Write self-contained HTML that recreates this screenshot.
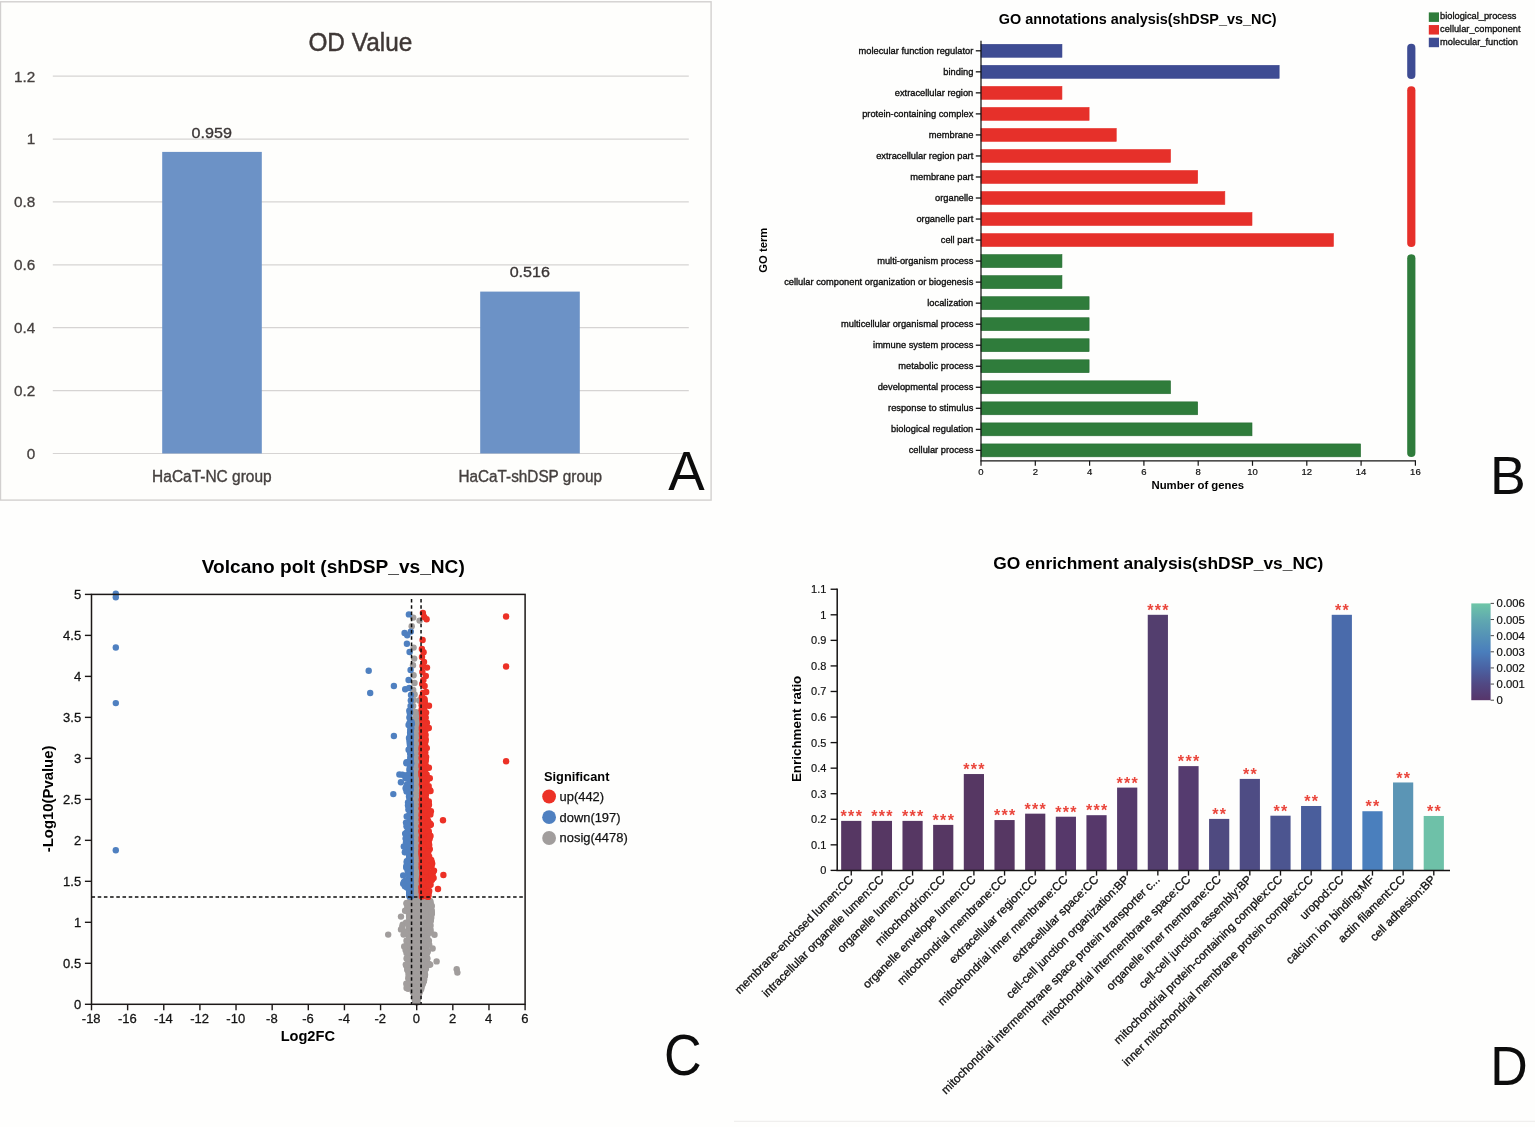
<!DOCTYPE html>
<html lang="en">
<head>
<meta charset="utf-8">
<title>Figure: OD value, GO annotation, volcano plot and GO enrichment (shDSP_vs_NC)</title>
<style>
html,body{margin:0;padding:0;background:#fefefd;}
body{width:1535px;height:1127px;overflow:hidden;}
svg{display:block;font-family:"Liberation Sans",sans-serif;}
</style>
</head>
<body>
<svg width="1535" height="1127" viewBox="0 0 1535 1127">
<rect x="0" y="0" width="1535" height="1127" fill="#fefefd"/>
<g id="panelA">
<rect x="0.5" y="1.8" width="710.6" height="498.3" fill="#fefefc" stroke="#d2d0cf" stroke-width="1.4"/>
<line x1="52.80" y1="76.20" x2="688.80" y2="76.20" stroke="#d6d4d3" stroke-width="1.2"/>
<text x="35.20" y="81.50" font-size="15.3" text-anchor="end" fill="#45403f" stroke="#45403f" stroke-width="0.3">1.2</text>
<line x1="52.80" y1="139.08" x2="688.80" y2="139.08" stroke="#d6d4d3" stroke-width="1.2"/>
<text x="35.20" y="144.38" font-size="15.3" text-anchor="end" fill="#45403f" stroke="#45403f" stroke-width="0.3">1</text>
<line x1="52.80" y1="201.96" x2="688.80" y2="201.96" stroke="#d6d4d3" stroke-width="1.2"/>
<text x="35.20" y="207.26" font-size="15.3" text-anchor="end" fill="#45403f" stroke="#45403f" stroke-width="0.3">0.8</text>
<line x1="52.80" y1="264.84" x2="688.80" y2="264.84" stroke="#d6d4d3" stroke-width="1.2"/>
<text x="35.20" y="270.14" font-size="15.3" text-anchor="end" fill="#45403f" stroke="#45403f" stroke-width="0.3">0.6</text>
<line x1="52.80" y1="327.72" x2="688.80" y2="327.72" stroke="#d6d4d3" stroke-width="1.2"/>
<text x="35.20" y="333.02" font-size="15.3" text-anchor="end" fill="#45403f" stroke="#45403f" stroke-width="0.3">0.4</text>
<line x1="52.80" y1="390.60" x2="688.80" y2="390.60" stroke="#d6d4d3" stroke-width="1.2"/>
<text x="35.20" y="395.90" font-size="15.3" text-anchor="end" fill="#45403f" stroke="#45403f" stroke-width="0.3">0.2</text>
<line x1="52.80" y1="453.48" x2="688.80" y2="453.48" stroke="#d6d4d3" stroke-width="1.2"/>
<text x="35.20" y="458.78" font-size="15.3" text-anchor="end" fill="#45403f" stroke="#45403f" stroke-width="0.3">0</text>
<rect x="162.20" y="151.90" width="99.60" height="301.58" fill="#6c92c6"/>
<rect x="480.20" y="291.60" width="99.60" height="161.88" fill="#6c92c6"/>
<text x="211.70" y="138.00" font-size="15.3" text-anchor="middle" fill="#3b3636" textLength="40.3" lengthAdjust="spacingAndGlyphs" stroke="#3b3636" stroke-width="0.35">0.959</text>
<text x="529.80" y="277.00" font-size="15.3" text-anchor="middle" fill="#3b3636" textLength="40.3" lengthAdjust="spacingAndGlyphs" stroke="#3b3636" stroke-width="0.35">0.516</text>
<text x="211.90" y="482.00" font-size="15.8" text-anchor="middle" fill="#45403f" textLength="119.6" lengthAdjust="spacingAndGlyphs" stroke="#45403f" stroke-width="0.35">HaCaT-NC group</text>
<text x="530.20" y="482.00" font-size="15.8" text-anchor="middle" fill="#45403f" textLength="143.6" lengthAdjust="spacingAndGlyphs" stroke="#45403f" stroke-width="0.35">HaCaT-shDSP group</text>
<text x="360.40" y="51.30" font-size="25.6" text-anchor="middle" fill="#3f3836" textLength="104.0" lengthAdjust="spacingAndGlyphs" stroke="#3f3836" stroke-width="0.45">OD Value</text>
<text x="668.20" y="490.00" font-size="54.6" fill="#0c0c0c">A</text>
</g>
<g id="panelB">
<rect x="981.00" y="44.35" width="80.95" height="12.90" fill="#3e4c93" stroke="#34418a" stroke-width="0.6"/>
<line x1="975.80" y1="50.80" x2="981.00" y2="50.80" stroke="#151515" stroke-width="1.3"/>
<text x="973.30" y="53.90" font-size="9.3" text-anchor="end" fill="#0c0c0c" stroke="#0c0c0c" stroke-width="0.33">molecular function regulator</text>
<rect x="981.00" y="65.38" width="298.15" height="12.90" fill="#3e4c93" stroke="#34418a" stroke-width="0.6"/>
<line x1="975.80" y1="71.83" x2="981.00" y2="71.83" stroke="#151515" stroke-width="1.3"/>
<text x="973.30" y="74.93" font-size="9.3" text-anchor="end" fill="#0c0c0c" stroke="#0c0c0c" stroke-width="0.33">binding</text>
<rect x="981.00" y="86.41" width="80.95" height="12.90" fill="#e6302a" stroke="#e6302a" stroke-width="0.6"/>
<line x1="975.80" y1="92.86" x2="981.00" y2="92.86" stroke="#151515" stroke-width="1.3"/>
<text x="973.30" y="95.96" font-size="9.3" text-anchor="end" fill="#0c0c0c" stroke="#0c0c0c" stroke-width="0.33">extracellular region</text>
<rect x="981.00" y="107.44" width="108.10" height="12.90" fill="#e6302a" stroke="#e6302a" stroke-width="0.6"/>
<line x1="975.80" y1="113.89" x2="981.00" y2="113.89" stroke="#151515" stroke-width="1.3"/>
<text x="973.30" y="116.99" font-size="9.3" text-anchor="end" fill="#0c0c0c" stroke="#0c0c0c" stroke-width="0.33">protein-containing complex</text>
<rect x="981.00" y="128.47" width="135.25" height="12.90" fill="#e6302a" stroke="#e6302a" stroke-width="0.6"/>
<line x1="975.80" y1="134.92" x2="981.00" y2="134.92" stroke="#151515" stroke-width="1.3"/>
<text x="973.30" y="138.02" font-size="9.3" text-anchor="end" fill="#0c0c0c" stroke="#0c0c0c" stroke-width="0.33">membrane</text>
<rect x="981.00" y="149.50" width="189.55" height="12.90" fill="#e6302a" stroke="#e6302a" stroke-width="0.6"/>
<line x1="975.80" y1="155.95" x2="981.00" y2="155.95" stroke="#151515" stroke-width="1.3"/>
<text x="973.30" y="159.05" font-size="9.3" text-anchor="end" fill="#0c0c0c" stroke="#0c0c0c" stroke-width="0.33">extracellular region part</text>
<rect x="981.00" y="170.53" width="216.70" height="12.90" fill="#e6302a" stroke="#e6302a" stroke-width="0.6"/>
<line x1="975.80" y1="176.98" x2="981.00" y2="176.98" stroke="#151515" stroke-width="1.3"/>
<text x="973.30" y="180.08" font-size="9.3" text-anchor="end" fill="#0c0c0c" stroke="#0c0c0c" stroke-width="0.33">membrane part</text>
<rect x="981.00" y="191.56" width="243.85" height="12.90" fill="#e6302a" stroke="#e6302a" stroke-width="0.6"/>
<line x1="975.80" y1="198.01" x2="981.00" y2="198.01" stroke="#151515" stroke-width="1.3"/>
<text x="973.30" y="201.11" font-size="9.3" text-anchor="end" fill="#0c0c0c" stroke="#0c0c0c" stroke-width="0.33">organelle</text>
<rect x="981.00" y="212.59" width="271.00" height="12.90" fill="#e6302a" stroke="#e6302a" stroke-width="0.6"/>
<line x1="975.80" y1="219.04" x2="981.00" y2="219.04" stroke="#151515" stroke-width="1.3"/>
<text x="973.30" y="222.14" font-size="9.3" text-anchor="end" fill="#0c0c0c" stroke="#0c0c0c" stroke-width="0.33">organelle part</text>
<rect x="981.00" y="233.62" width="352.45" height="12.90" fill="#e6302a" stroke="#e6302a" stroke-width="0.6"/>
<line x1="975.80" y1="240.07" x2="981.00" y2="240.07" stroke="#151515" stroke-width="1.3"/>
<text x="973.30" y="243.17" font-size="9.3" text-anchor="end" fill="#0c0c0c" stroke="#0c0c0c" stroke-width="0.33">cell part</text>
<rect x="981.00" y="254.65" width="80.95" height="12.90" fill="#2f7c3b" stroke="#276d33" stroke-width="0.6"/>
<line x1="975.80" y1="261.10" x2="981.00" y2="261.10" stroke="#151515" stroke-width="1.3"/>
<text x="973.30" y="264.20" font-size="9.3" text-anchor="end" fill="#0c0c0c" stroke="#0c0c0c" stroke-width="0.33">multi-organism process</text>
<rect x="981.00" y="275.68" width="80.95" height="12.90" fill="#2f7c3b" stroke="#276d33" stroke-width="0.6"/>
<line x1="975.80" y1="282.13" x2="981.00" y2="282.13" stroke="#151515" stroke-width="1.3"/>
<text x="973.30" y="285.23" font-size="9.3" text-anchor="end" fill="#0c0c0c" stroke="#0c0c0c" stroke-width="0.33">cellular component organization or biogenesis</text>
<rect x="981.00" y="296.71" width="108.10" height="12.90" fill="#2f7c3b" stroke="#276d33" stroke-width="0.6"/>
<line x1="975.80" y1="303.16" x2="981.00" y2="303.16" stroke="#151515" stroke-width="1.3"/>
<text x="973.30" y="306.26" font-size="9.3" text-anchor="end" fill="#0c0c0c" stroke="#0c0c0c" stroke-width="0.33">localization</text>
<rect x="981.00" y="317.74" width="108.10" height="12.90" fill="#2f7c3b" stroke="#276d33" stroke-width="0.6"/>
<line x1="975.80" y1="324.19" x2="981.00" y2="324.19" stroke="#151515" stroke-width="1.3"/>
<text x="973.30" y="327.29" font-size="9.3" text-anchor="end" fill="#0c0c0c" stroke="#0c0c0c" stroke-width="0.33">multicellular organismal process</text>
<rect x="981.00" y="338.77" width="108.10" height="12.90" fill="#2f7c3b" stroke="#276d33" stroke-width="0.6"/>
<line x1="975.80" y1="345.22" x2="981.00" y2="345.22" stroke="#151515" stroke-width="1.3"/>
<text x="973.30" y="348.32" font-size="9.3" text-anchor="end" fill="#0c0c0c" stroke="#0c0c0c" stroke-width="0.33">immune system process</text>
<rect x="981.00" y="359.80" width="108.10" height="12.90" fill="#2f7c3b" stroke="#276d33" stroke-width="0.6"/>
<line x1="975.80" y1="366.25" x2="981.00" y2="366.25" stroke="#151515" stroke-width="1.3"/>
<text x="973.30" y="369.35" font-size="9.3" text-anchor="end" fill="#0c0c0c" stroke="#0c0c0c" stroke-width="0.33">metabolic process</text>
<rect x="981.00" y="380.83" width="189.55" height="12.90" fill="#2f7c3b" stroke="#276d33" stroke-width="0.6"/>
<line x1="975.80" y1="387.28" x2="981.00" y2="387.28" stroke="#151515" stroke-width="1.3"/>
<text x="973.30" y="390.38" font-size="9.3" text-anchor="end" fill="#0c0c0c" stroke="#0c0c0c" stroke-width="0.33">developmental process</text>
<rect x="981.00" y="401.86" width="216.70" height="12.90" fill="#2f7c3b" stroke="#276d33" stroke-width="0.6"/>
<line x1="975.80" y1="408.31" x2="981.00" y2="408.31" stroke="#151515" stroke-width="1.3"/>
<text x="973.30" y="411.41" font-size="9.3" text-anchor="end" fill="#0c0c0c" stroke="#0c0c0c" stroke-width="0.33">response to stimulus</text>
<rect x="981.00" y="422.89" width="271.00" height="12.90" fill="#2f7c3b" stroke="#276d33" stroke-width="0.6"/>
<line x1="975.80" y1="429.34" x2="981.00" y2="429.34" stroke="#151515" stroke-width="1.3"/>
<text x="973.30" y="432.44" font-size="9.3" text-anchor="end" fill="#0c0c0c" stroke="#0c0c0c" stroke-width="0.33">biological regulation</text>
<rect x="981.00" y="443.92" width="379.60" height="12.90" fill="#2f7c3b" stroke="#276d33" stroke-width="0.6"/>
<line x1="975.80" y1="450.37" x2="981.00" y2="450.37" stroke="#151515" stroke-width="1.3"/>
<text x="973.30" y="453.47" font-size="9.3" text-anchor="end" fill="#0c0c0c" stroke="#0c0c0c" stroke-width="0.33">cellular process</text>
<line x1="981.00" y1="40.80" x2="981.00" y2="460.80" stroke="#151515" stroke-width="1.25"/>
<line x1="980.40" y1="460.80" x2="1416.00" y2="460.80" stroke="#151515" stroke-width="1.25"/>
<line x1="981.00" y1="460.80" x2="981.00" y2="465.80" stroke="#151515" stroke-width="1.2"/>
<text x="981.00" y="474.70" font-size="9.5" text-anchor="middle" fill="#0f0f0f" stroke="#0f0f0f" stroke-width="0.2">0</text>
<line x1="1035.30" y1="460.80" x2="1035.30" y2="465.80" stroke="#151515" stroke-width="1.2"/>
<text x="1035.30" y="474.70" font-size="9.5" text-anchor="middle" fill="#0f0f0f" stroke="#0f0f0f" stroke-width="0.2">2</text>
<line x1="1089.60" y1="460.80" x2="1089.60" y2="465.80" stroke="#151515" stroke-width="1.2"/>
<text x="1089.60" y="474.70" font-size="9.5" text-anchor="middle" fill="#0f0f0f" stroke="#0f0f0f" stroke-width="0.2">4</text>
<line x1="1143.90" y1="460.80" x2="1143.90" y2="465.80" stroke="#151515" stroke-width="1.2"/>
<text x="1143.90" y="474.70" font-size="9.5" text-anchor="middle" fill="#0f0f0f" stroke="#0f0f0f" stroke-width="0.2">6</text>
<line x1="1198.20" y1="460.80" x2="1198.20" y2="465.80" stroke="#151515" stroke-width="1.2"/>
<text x="1198.20" y="474.70" font-size="9.5" text-anchor="middle" fill="#0f0f0f" stroke="#0f0f0f" stroke-width="0.2">8</text>
<line x1="1252.50" y1="460.80" x2="1252.50" y2="465.80" stroke="#151515" stroke-width="1.2"/>
<text x="1252.50" y="474.70" font-size="9.5" text-anchor="middle" fill="#0f0f0f" stroke="#0f0f0f" stroke-width="0.2">10</text>
<line x1="1306.80" y1="460.80" x2="1306.80" y2="465.80" stroke="#151515" stroke-width="1.2"/>
<text x="1306.80" y="474.70" font-size="9.5" text-anchor="middle" fill="#0f0f0f" stroke="#0f0f0f" stroke-width="0.2">12</text>
<line x1="1361.10" y1="460.80" x2="1361.10" y2="465.80" stroke="#151515" stroke-width="1.2"/>
<text x="1361.10" y="474.70" font-size="9.5" text-anchor="middle" fill="#0f0f0f" stroke="#0f0f0f" stroke-width="0.2">14</text>
<line x1="1415.40" y1="460.80" x2="1415.40" y2="465.80" stroke="#151515" stroke-width="1.2"/>
<text x="1415.40" y="474.70" font-size="9.5" text-anchor="middle" fill="#0f0f0f" stroke="#0f0f0f" stroke-width="0.2">16</text>
<text x="1197.80" y="489.30" font-size="11.35" text-anchor="middle" font-weight="bold">Number of genes</text>
<text x="766.90" y="250.20" font-size="11.3" text-anchor="middle" font-weight="bold" transform="rotate(-90 766.90 250.20)">GO term</text>
<text x="1137.70" y="24.20" font-size="15.0" text-anchor="middle" font-weight="bold" textLength="277.8" lengthAdjust="spacingAndGlyphs">GO annotations analysis(shDSP_vs_NC)</text>
<rect x="1407.2" y="43.8" width="8.2" height="35.2" rx="4.1" ry="4.1" fill="#3e4c93"/>
<rect x="1407.2" y="86.2" width="8.2" height="160.8" rx="4.1" ry="4.1" fill="#e6302a"/>
<rect x="1407.2" y="254.2" width="8.2" height="202.8" rx="4.1" ry="4.1" fill="#2f7c3b"/>
<rect x="1428.80" y="12.40" width="10.20" height="9.50" fill="#2f7c3b"/>
<text x="1440.00" y="19.20" font-size="9.3" fill="#0c0c0c" stroke="#0c0c0c" stroke-width="0.3">biological_process</text>
<rect x="1428.80" y="25.05" width="10.20" height="9.50" fill="#e6302a"/>
<text x="1440.00" y="31.85" font-size="9.3" fill="#0c0c0c" stroke="#0c0c0c" stroke-width="0.3">cellular_component</text>
<rect x="1428.80" y="37.70" width="10.20" height="9.50" fill="#3e4c93"/>
<text x="1440.00" y="44.50" font-size="9.3" fill="#0c0c0c" stroke="#0c0c0c" stroke-width="0.3">molecular_function</text>
<text x="1489.90" y="493.50" font-size="53.6" fill="#0c0c0c">B</text>
</g>
<g id="panelC">
<g fill="#a19d9c">
<circle cx="412.3" cy="933.0" r="3.2"/><circle cx="411.1" cy="966.6" r="3.2"/><circle cx="415.4" cy="954.8" r="3.2"/><circle cx="419.2" cy="905.6" r="3.2"/><circle cx="417.8" cy="903.5" r="3.2"/><circle cx="411.2" cy="906.8" r="3.2"/><circle cx="423.8" cy="943.3" r="3.2"/><circle cx="413.6" cy="912.4" r="3.2"/><circle cx="423.9" cy="964.2" r="3.2"/><circle cx="415.8" cy="959.0" r="3.2"/><circle cx="415.3" cy="1000.2" r="3.2"/><circle cx="414.6" cy="988.0" r="3.2"/><circle cx="411.4" cy="914.5" r="3.2"/><circle cx="424.5" cy="931.4" r="3.2"/><circle cx="420.5" cy="918.2" r="3.2"/><circle cx="415.5" cy="965.4" r="3.2"/><circle cx="410.9" cy="956.0" r="3.2"/><circle cx="413.5" cy="905.7" r="3.2"/><circle cx="416.3" cy="969.7" r="3.2"/><circle cx="420.2" cy="932.0" r="3.2"/><circle cx="414.9" cy="946.3" r="3.2"/><circle cx="419.3" cy="981.4" r="3.2"/><circle cx="420.2" cy="924.7" r="3.2"/><circle cx="423.0" cy="953.7" r="3.2"/><circle cx="414.2" cy="974.7" r="3.2"/><circle cx="415.5" cy="1000.6" r="3.2"/><circle cx="422.7" cy="942.7" r="3.2"/><circle cx="418.7" cy="915.3" r="3.2"/><circle cx="422.2" cy="903.6" r="3.2"/><circle cx="418.1" cy="978.4" r="3.2"/><circle cx="415.0" cy="989.8" r="3.2"/><circle cx="418.7" cy="971.2" r="3.2"/><circle cx="416.7" cy="959.3" r="3.2"/><circle cx="421.1" cy="986.1" r="3.2"/><circle cx="420.6" cy="948.4" r="3.2"/><circle cx="422.9" cy="905.8" r="3.2"/><circle cx="424.6" cy="966.3" r="3.2"/><circle cx="414.2" cy="984.3" r="3.2"/><circle cx="421.4" cy="939.3" r="3.2"/><circle cx="418.4" cy="901.9" r="3.2"/><circle cx="411.3" cy="916.9" r="3.2"/><circle cx="424.2" cy="905.7" r="3.2"/><circle cx="414.0" cy="912.9" r="3.2"/><circle cx="424.8" cy="939.9" r="3.2"/><circle cx="418.1" cy="907.9" r="3.2"/><circle cx="422.9" cy="956.2" r="3.2"/><circle cx="420.8" cy="984.0" r="3.2"/><circle cx="417.1" cy="928.3" r="3.2"/><circle cx="425.4" cy="936.6" r="3.2"/><circle cx="415.4" cy="998.2" r="3.2"/><circle cx="413.6" cy="917.8" r="3.2"/><circle cx="418.5" cy="923.6" r="3.2"/><circle cx="413.8" cy="960.3" r="3.2"/><circle cx="417.6" cy="900.0" r="3.2"/><circle cx="419.7" cy="937.6" r="3.2"/><circle cx="416.9" cy="997.8" r="3.2"/><circle cx="419.3" cy="952.7" r="3.2"/><circle cx="410.8" cy="969.2" r="3.2"/><circle cx="417.8" cy="992.3" r="3.2"/><circle cx="418.6" cy="989.7" r="3.2"/><circle cx="416.7" cy="940.0" r="3.2"/><circle cx="421.6" cy="910.3" r="3.2"/><circle cx="410.8" cy="906.0" r="3.2"/><circle cx="412.3" cy="921.1" r="3.2"/><circle cx="410.6" cy="934.6" r="3.2"/><circle cx="412.7" cy="899.6" r="3.2"/><circle cx="416.4" cy="910.1" r="3.2"/><circle cx="426.0" cy="902.2" r="3.2"/><circle cx="412.2" cy="962.8" r="3.2"/><circle cx="415.9" cy="925.6" r="3.2"/><circle cx="411.9" cy="937.1" r="3.2"/><circle cx="421.2" cy="987.0" r="3.2"/><circle cx="417.8" cy="947.6" r="3.2"/><circle cx="411.4" cy="908.4" r="3.2"/><circle cx="414.4" cy="934.9" r="3.2"/><circle cx="412.8" cy="985.0" r="3.2"/><circle cx="427.4" cy="902.0" r="3.2"/><circle cx="412.2" cy="954.0" r="3.2"/><circle cx="410.4" cy="955.5" r="3.2"/><circle cx="424.5" cy="954.0" r="3.2"/><circle cx="418.0" cy="988.5" r="3.2"/><circle cx="416.2" cy="926.5" r="3.2"/><circle cx="424.3" cy="916.8" r="3.2"/><circle cx="421.5" cy="954.5" r="3.2"/><circle cx="413.6" cy="933.6" r="3.2"/><circle cx="422.4" cy="983.2" r="3.2"/><circle cx="419.3" cy="987.4" r="3.2"/><circle cx="419.4" cy="983.9" r="3.2"/><circle cx="419.1" cy="923.0" r="3.2"/><circle cx="410.2" cy="936.2" r="3.2"/><circle cx="415.0" cy="902.5" r="3.2"/><circle cx="422.4" cy="926.3" r="3.2"/><circle cx="416.2" cy="998.1" r="3.2"/><circle cx="418.0" cy="996.1" r="3.2"/><circle cx="415.9" cy="998.0" r="3.2"/><circle cx="413.6" cy="922.3" r="3.2"/><circle cx="413.1" cy="919.9" r="3.2"/><circle cx="423.2" cy="963.9" r="3.2"/><circle cx="416.3" cy="986.2" r="3.2"/><circle cx="421.7" cy="966.9" r="3.2"/><circle cx="422.1" cy="908.3" r="3.2"/><circle cx="417.7" cy="993.3" r="3.2"/><circle cx="416.9" cy="976.9" r="3.2"/><circle cx="424.5" cy="918.0" r="3.2"/><circle cx="424.1" cy="933.8" r="3.2"/><circle cx="416.1" cy="999.7" r="3.2"/><circle cx="426.0" cy="940.9" r="3.2"/><circle cx="412.5" cy="974.3" r="3.2"/><circle cx="412.1" cy="912.7" r="3.2"/><circle cx="417.9" cy="992.8" r="3.2"/><circle cx="425.4" cy="914.7" r="3.2"/><circle cx="416.7" cy="1000.6" r="3.2"/><circle cx="419.5" cy="935.7" r="3.2"/><circle cx="409.4" cy="913.1" r="3.2"/><circle cx="416.7" cy="999.6" r="3.2"/><circle cx="423.8" cy="953.8" r="3.2"/><circle cx="424.5" cy="944.3" r="3.2"/><circle cx="413.3" cy="984.7" r="3.2"/><circle cx="414.8" cy="925.5" r="3.2"/><circle cx="420.4" cy="924.4" r="3.2"/><circle cx="417.2" cy="926.3" r="3.2"/><circle cx="427.0" cy="913.1" r="3.2"/><circle cx="417.8" cy="936.0" r="3.2"/><circle cx="423.2" cy="959.7" r="3.2"/><circle cx="425.4" cy="942.9" r="3.2"/><circle cx="418.2" cy="951.3" r="3.2"/><circle cx="410.3" cy="953.5" r="3.2"/><circle cx="413.0" cy="944.9" r="3.2"/><circle cx="424.5" cy="900.0" r="3.2"/><circle cx="418.4" cy="917.4" r="3.2"/><circle cx="418.2" cy="974.3" r="3.2"/><circle cx="419.0" cy="933.2" r="3.2"/><circle cx="421.5" cy="956.8" r="3.2"/><circle cx="420.2" cy="910.5" r="3.2"/><circle cx="414.5" cy="925.2" r="3.2"/><circle cx="417.1" cy="979.1" r="3.2"/><circle cx="421.1" cy="957.5" r="3.2"/><circle cx="416.0" cy="993.6" r="3.2"/><circle cx="417.4" cy="962.7" r="3.2"/><circle cx="420.5" cy="952.4" r="3.2"/><circle cx="418.7" cy="946.2" r="3.2"/><circle cx="424.9" cy="948.8" r="3.2"/><circle cx="422.9" cy="971.6" r="3.2"/><circle cx="415.5" cy="996.6" r="3.2"/><circle cx="423.8" cy="957.2" r="3.2"/><circle cx="412.8" cy="986.1" r="3.2"/><circle cx="417.8" cy="912.1" r="3.2"/><circle cx="414.1" cy="907.1" r="3.2"/><circle cx="422.3" cy="907.1" r="3.2"/><circle cx="422.0" cy="980.3" r="3.2"/><circle cx="423.2" cy="915.5" r="3.2"/><circle cx="412.1" cy="967.6" r="3.2"/><circle cx="419.5" cy="990.5" r="3.2"/><circle cx="427.5" cy="922.2" r="3.2"/><circle cx="418.2" cy="940.6" r="3.2"/><circle cx="417.1" cy="1001.6" r="3.2"/><circle cx="417.5" cy="916.2" r="3.2"/><circle cx="415.1" cy="952.7" r="3.2"/><circle cx="415.3" cy="919.8" r="3.2"/><circle cx="410.3" cy="974.0" r="3.2"/><circle cx="416.4" cy="956.7" r="3.2"/><circle cx="416.0" cy="901.5" r="3.2"/><circle cx="417.5" cy="963.9" r="3.2"/><circle cx="428.3" cy="906.2" r="3.2"/><circle cx="422.8" cy="980.8" r="3.2"/><circle cx="414.5" cy="910.4" r="3.2"/><circle cx="424.3" cy="903.7" r="3.2"/><circle cx="411.8" cy="927.5" r="3.2"/><circle cx="425.2" cy="943.1" r="3.2"/><circle cx="413.9" cy="984.0" r="3.2"/><circle cx="427.2" cy="915.0" r="3.2"/><circle cx="420.2" cy="958.4" r="3.2"/><circle cx="410.5" cy="908.8" r="3.2"/><circle cx="416.2" cy="970.5" r="3.2"/><circle cx="427.5" cy="907.1" r="3.2"/><circle cx="421.7" cy="964.9" r="3.2"/><circle cx="425.9" cy="908.2" r="3.2"/><circle cx="426.0" cy="906.5" r="3.2"/><circle cx="415.5" cy="946.3" r="3.2"/><circle cx="423.5" cy="956.6" r="3.2"/><circle cx="411.8" cy="927.2" r="3.2"/><circle cx="413.5" cy="953.9" r="3.2"/><circle cx="412.4" cy="910.9" r="3.2"/><circle cx="413.4" cy="904.8" r="3.2"/><circle cx="415.1" cy="931.7" r="3.2"/><circle cx="414.3" cy="977.8" r="3.2"/><circle cx="412.7" cy="951.1" r="3.2"/><circle cx="410.0" cy="935.3" r="3.2"/><circle cx="409.6" cy="925.4" r="3.2"/><circle cx="418.1" cy="975.1" r="3.2"/><circle cx="418.4" cy="919.1" r="3.2"/><circle cx="414.9" cy="995.9" r="3.2"/><circle cx="415.9" cy="983.9" r="3.2"/><circle cx="422.9" cy="950.6" r="3.2"/><circle cx="418.5" cy="940.1" r="3.2"/><circle cx="424.4" cy="970.4" r="3.2"/><circle cx="424.6" cy="934.9" r="3.2"/><circle cx="419.3" cy="972.4" r="3.2"/><circle cx="415.8" cy="941.3" r="3.2"/><circle cx="412.1" cy="905.2" r="3.2"/><circle cx="423.7" cy="906.9" r="3.2"/><circle cx="412.4" cy="925.9" r="3.2"/><circle cx="425.6" cy="908.3" r="3.2"/><circle cx="417.7" cy="989.3" r="3.2"/><circle cx="413.9" cy="928.6" r="3.2"/><circle cx="417.9" cy="929.8" r="3.2"/><circle cx="417.8" cy="915.8" r="3.2"/><circle cx="427.4" cy="926.7" r="3.2"/><circle cx="416.5" cy="999.8" r="3.2"/><circle cx="427.6" cy="924.8" r="3.2"/><circle cx="416.0" cy="931.5" r="3.2"/><circle cx="416.9" cy="899.7" r="3.2"/><circle cx="418.0" cy="948.5" r="3.2"/><circle cx="418.9" cy="920.3" r="3.2"/><circle cx="414.8" cy="900.1" r="3.2"/><circle cx="417.1" cy="908.8" r="3.2"/><circle cx="410.1" cy="903.9" r="3.2"/><circle cx="413.8" cy="930.9" r="3.2"/><circle cx="417.7" cy="959.9" r="3.2"/><circle cx="419.4" cy="976.9" r="3.2"/><circle cx="422.9" cy="973.3" r="3.2"/><circle cx="415.4" cy="939.7" r="3.2"/><circle cx="415.6" cy="1001.0" r="3.2"/><circle cx="419.5" cy="974.2" r="3.2"/><circle cx="425.4" cy="904.1" r="3.2"/><circle cx="417.1" cy="991.5" r="3.2"/><circle cx="421.9" cy="975.2" r="3.2"/><circle cx="419.4" cy="913.9" r="3.2"/><circle cx="422.8" cy="951.6" r="3.2"/><circle cx="420.7" cy="982.5" r="3.2"/><circle cx="423.1" cy="959.8" r="3.2"/><circle cx="420.2" cy="969.9" r="3.2"/><circle cx="409.8" cy="923.3" r="3.2"/><circle cx="416.2" cy="913.3" r="3.2"/><circle cx="425.5" cy="910.4" r="3.2"/><circle cx="419.2" cy="957.1" r="3.2"/><circle cx="420.0" cy="964.1" r="3.2"/><circle cx="410.1" cy="950.0" r="3.2"/><circle cx="419.9" cy="981.8" r="3.2"/><circle cx="418.2" cy="951.4" r="3.2"/><circle cx="411.0" cy="967.5" r="3.2"/><circle cx="413.7" cy="975.5" r="3.2"/><circle cx="414.6" cy="907.3" r="3.2"/><circle cx="413.0" cy="974.7" r="3.2"/><circle cx="424.1" cy="975.8" r="3.2"/><circle cx="415.9" cy="950.5" r="3.2"/><circle cx="420.8" cy="948.9" r="3.2"/><circle cx="418.6" cy="978.6" r="3.2"/><circle cx="411.1" cy="965.8" r="3.2"/><circle cx="414.1" cy="914.8" r="3.2"/><circle cx="414.5" cy="976.2" r="3.2"/><circle cx="410.2" cy="958.1" r="3.2"/><circle cx="414.7" cy="905.8" r="3.2"/><circle cx="420.2" cy="968.8" r="3.2"/><circle cx="414.3" cy="969.2" r="3.2"/><circle cx="417.0" cy="952.8" r="3.2"/><circle cx="411.9" cy="947.6" r="3.2"/><circle cx="414.5" cy="991.6" r="3.2"/><circle cx="417.4" cy="1000.3" r="3.2"/><circle cx="418.3" cy="901.4" r="3.2"/><circle cx="422.0" cy="984.0" r="3.2"/><circle cx="414.4" cy="945.9" r="3.2"/><circle cx="427.4" cy="921.2" r="3.2"/><circle cx="420.4" cy="921.3" r="3.2"/><circle cx="419.4" cy="914.2" r="3.2"/><circle cx="415.3" cy="997.7" r="3.2"/><circle cx="416.7" cy="984.1" r="3.2"/><circle cx="417.6" cy="990.9" r="3.2"/><circle cx="426.4" cy="923.4" r="3.2"/><circle cx="410.4" cy="949.7" r="3.2"/><circle cx="418.9" cy="900.0" r="3.2"/><circle cx="415.0" cy="946.0" r="3.2"/><circle cx="415.9" cy="914.1" r="3.2"/><circle cx="424.9" cy="932.2" r="3.2"/><circle cx="423.6" cy="899.8" r="3.2"/><circle cx="412.6" cy="986.0" r="3.2"/><circle cx="417.1" cy="995.0" r="3.2"/><circle cx="415.1" cy="992.5" r="3.2"/><circle cx="416.6" cy="937.9" r="3.2"/><circle cx="416.6" cy="1002.5" r="3.2"/><circle cx="417.3" cy="936.8" r="3.2"/><circle cx="410.3" cy="927.9" r="3.2"/><circle cx="425.5" cy="910.1" r="3.2"/><circle cx="426.8" cy="929.0" r="3.2"/><circle cx="414.3" cy="925.3" r="3.2"/><circle cx="412.9" cy="952.2" r="3.2"/><circle cx="426.5" cy="938.1" r="3.2"/><circle cx="418.4" cy="990.7" r="3.2"/><circle cx="423.4" cy="964.6" r="3.2"/><circle cx="416.5" cy="996.5" r="3.2"/><circle cx="410.7" cy="973.7" r="3.2"/><circle cx="416.6" cy="975.0" r="3.2"/><circle cx="419.2" cy="977.1" r="3.2"/><circle cx="410.3" cy="929.1" r="3.2"/><circle cx="414.8" cy="995.1" r="3.2"/><circle cx="415.5" cy="948.2" r="3.2"/><circle cx="423.1" cy="930.3" r="3.2"/><circle cx="415.8" cy="1000.2" r="3.2"/><circle cx="414.4" cy="967.2" r="3.2"/><circle cx="415.8" cy="957.0" r="3.2"/><circle cx="412.2" cy="916.8" r="3.2"/><circle cx="426.7" cy="921.0" r="3.2"/><circle cx="413.4" cy="950.8" r="3.2"/><circle cx="418.8" cy="992.9" r="3.2"/><circle cx="412.3" cy="945.9" r="3.2"/><circle cx="410.9" cy="919.4" r="3.2"/><circle cx="411.3" cy="934.8" r="3.2"/><circle cx="414.2" cy="924.2" r="3.2"/><circle cx="423.0" cy="958.3" r="3.2"/><circle cx="416.0" cy="976.8" r="3.2"/><circle cx="418.8" cy="942.2" r="3.2"/><circle cx="415.7" cy="938.4" r="3.2"/><circle cx="414.8" cy="906.0" r="3.2"/><circle cx="415.4" cy="999.3" r="3.2"/><circle cx="419.6" cy="951.4" r="3.2"/><circle cx="414.0" cy="988.5" r="3.2"/><circle cx="414.0" cy="927.5" r="3.2"/><circle cx="417.5" cy="940.8" r="3.2"/><circle cx="417.3" cy="997.9" r="3.2"/><circle cx="412.7" cy="989.5" r="3.2"/><circle cx="423.0" cy="902.9" r="3.2"/><circle cx="416.1" cy="991.9" r="3.2"/><circle cx="410.0" cy="960.1" r="3.2"/><circle cx="425.8" cy="939.9" r="3.2"/><circle cx="420.6" cy="984.6" r="3.2"/><circle cx="415.7" cy="999.7" r="3.2"/><circle cx="412.3" cy="910.8" r="3.2"/><circle cx="420.2" cy="953.4" r="3.2"/><circle cx="417.0" cy="996.6" r="3.2"/><circle cx="421.2" cy="966.3" r="3.2"/><circle cx="419.0" cy="946.7" r="3.2"/><circle cx="424.4" cy="903.7" r="3.2"/><circle cx="426.8" cy="923.6" r="3.2"/><circle cx="414.5" cy="966.1" r="3.2"/><circle cx="414.1" cy="912.8" r="3.2"/><circle cx="420.2" cy="965.1" r="3.2"/><circle cx="410.6" cy="911.1" r="3.2"/><circle cx="418.7" cy="953.6" r="3.2"/><circle cx="413.7" cy="939.6" r="3.2"/><circle cx="410.2" cy="961.5" r="3.2"/><circle cx="418.0" cy="930.7" r="3.2"/><circle cx="416.7" cy="998.4" r="3.2"/><circle cx="416.1" cy="990.6" r="3.2"/><circle cx="414.0" cy="923.8" r="3.2"/><circle cx="416.9" cy="998.5" r="3.2"/><circle cx="409.9" cy="931.3" r="3.2"/><circle cx="420.4" cy="950.9" r="3.2"/><circle cx="414.2" cy="942.9" r="3.2"/><circle cx="423.6" cy="968.3" r="3.2"/><circle cx="409.9" cy="923.0" r="3.2"/><circle cx="417.2" cy="934.4" r="3.2"/><circle cx="412.9" cy="969.9" r="3.2"/><circle cx="419.8" cy="981.7" r="3.2"/><circle cx="413.1" cy="951.6" r="3.2"/><circle cx="415.9" cy="999.5" r="3.2"/><circle cx="413.5" cy="984.1" r="3.2"/><circle cx="423.8" cy="922.4" r="3.2"/><circle cx="427.0" cy="930.0" r="3.2"/><circle cx="412.9" cy="950.7" r="3.2"/><circle cx="417.2" cy="922.6" r="3.2"/><circle cx="423.9" cy="968.1" r="3.2"/><circle cx="416.8" cy="914.7" r="3.2"/><circle cx="428.0" cy="921.5" r="3.2"/><circle cx="410.1" cy="914.2" r="3.2"/><circle cx="417.1" cy="905.8" r="3.2"/><circle cx="418.4" cy="992.1" r="3.2"/><circle cx="424.6" cy="975.1" r="3.2"/><circle cx="415.6" cy="995.6" r="3.2"/><circle cx="427.4" cy="918.7" r="3.2"/><circle cx="410.6" cy="976.5" r="3.2"/><circle cx="415.6" cy="968.0" r="3.2"/><circle cx="415.5" cy="938.1" r="3.2"/><circle cx="409.1" cy="917.0" r="3.2"/><circle cx="416.0" cy="928.4" r="3.2"/><circle cx="415.3" cy="998.0" r="3.2"/><circle cx="415.6" cy="998.9" r="3.2"/><circle cx="424.3" cy="936.3" r="3.2"/><circle cx="415.8" cy="984.3" r="3.2"/><circle cx="418.6" cy="904.7" r="3.2"/><circle cx="425.9" cy="938.0" r="3.2"/><circle cx="416.2" cy="919.5" r="3.2"/><circle cx="413.6" cy="992.0" r="3.2"/><circle cx="423.7" cy="941.9" r="3.2"/><circle cx="410.9" cy="978.6" r="3.2"/><circle cx="410.9" cy="903.2" r="3.2"/><circle cx="415.2" cy="994.4" r="3.2"/><circle cx="422.9" cy="976.6" r="3.2"/><circle cx="414.5" cy="934.5" r="3.2"/><circle cx="416.7" cy="998.2" r="3.2"/><circle cx="422.8" cy="926.6" r="3.2"/><circle cx="414.6" cy="932.2" r="3.2"/><circle cx="423.7" cy="900.0" r="3.2"/><circle cx="416.9" cy="994.0" r="3.2"/><circle cx="414.8" cy="996.8" r="3.2"/><circle cx="418.3" cy="923.7" r="3.2"/><circle cx="417.6" cy="998.1" r="3.2"/><circle cx="414.1" cy="939.4" r="3.2"/><circle cx="418.2" cy="943.9" r="3.2"/><circle cx="415.0" cy="995.2" r="3.2"/><circle cx="419.7" cy="982.3" r="3.2"/><circle cx="419.7" cy="984.3" r="3.2"/><circle cx="414.8" cy="962.1" r="3.2"/><circle cx="416.1" cy="932.5" r="3.2"/><circle cx="411.5" cy="980.2" r="3.2"/><circle cx="423.8" cy="919.9" r="3.2"/><circle cx="410.5" cy="925.1" r="3.2"/><circle cx="420.1" cy="903.1" r="3.2"/><circle cx="427.4" cy="933.2" r="3.2"/><circle cx="419.6" cy="990.6" r="3.2"/><circle cx="410.9" cy="926.9" r="3.2"/><circle cx="419.0" cy="909.5" r="3.2"/><circle cx="416.6" cy="972.7" r="3.2"/><circle cx="417.2" cy="923.7" r="3.2"/><circle cx="419.9" cy="963.5" r="3.2"/><circle cx="422.1" cy="976.6" r="3.2"/><circle cx="411.8" cy="968.0" r="3.2"/><circle cx="414.4" cy="986.2" r="3.2"/><circle cx="415.5" cy="958.0" r="3.2"/><circle cx="412.9" cy="975.6" r="3.2"/><circle cx="413.9" cy="925.1" r="3.2"/><circle cx="426.5" cy="915.4" r="3.2"/><circle cx="414.8" cy="959.2" r="3.2"/><circle cx="426.9" cy="940.4" r="3.2"/><circle cx="413.5" cy="951.9" r="3.2"/><circle cx="418.5" cy="982.9" r="3.2"/><circle cx="415.6" cy="1001.7" r="3.2"/><circle cx="423.0" cy="948.5" r="3.2"/><circle cx="420.7" cy="986.2" r="3.2"/><circle cx="415.2" cy="903.8" r="3.2"/><circle cx="412.9" cy="911.9" r="3.2"/><circle cx="416.6" cy="999.8" r="3.2"/><circle cx="415.8" cy="995.4" r="3.2"/><circle cx="416.0" cy="988.8" r="3.2"/><circle cx="424.0" cy="926.4" r="3.2"/><circle cx="415.1" cy="997.0" r="3.2"/><circle cx="419.1" cy="961.0" r="3.2"/><circle cx="416.3" cy="922.0" r="3.2"/><circle cx="413.1" cy="914.2" r="3.2"/><circle cx="420.6" cy="925.9" r="3.2"/><circle cx="413.0" cy="966.7" r="3.2"/><circle cx="415.9" cy="900.8" r="3.2"/><circle cx="412.7" cy="969.5" r="3.2"/><circle cx="413.2" cy="931.8" r="3.2"/><circle cx="417.4" cy="981.5" r="3.2"/><circle cx="411.5" cy="906.1" r="3.2"/><circle cx="419.3" cy="940.3" r="3.2"/><circle cx="411.3" cy="965.4" r="3.2"/><circle cx="422.8" cy="916.5" r="3.2"/><circle cx="414.7" cy="941.8" r="3.2"/><circle cx="427.0" cy="931.3" r="3.2"/><circle cx="419.9" cy="931.8" r="3.2"/><circle cx="417.1" cy="936.4" r="3.2"/><circle cx="420.5" cy="988.6" r="3.2"/><circle cx="413.2" cy="937.1" r="3.2"/><circle cx="413.0" cy="974.6" r="3.2"/><circle cx="426.3" cy="900.2" r="3.2"/><circle cx="423.7" cy="943.2" r="3.2"/><circle cx="424.9" cy="941.4" r="3.2"/><circle cx="412.6" cy="947.1" r="3.2"/><circle cx="420.0" cy="901.1" r="3.2"/><circle cx="423.3" cy="965.6" r="3.2"/><circle cx="421.4" cy="908.8" r="3.2"/><circle cx="418.6" cy="937.8" r="3.2"/><circle cx="414.7" cy="914.6" r="3.2"/><circle cx="423.8" cy="953.3" r="3.2"/><circle cx="418.8" cy="910.8" r="3.2"/><circle cx="422.4" cy="982.5" r="3.2"/><circle cx="411.6" cy="919.9" r="3.2"/><circle cx="417.8" cy="996.7" r="3.2"/><circle cx="410.8" cy="949.3" r="3.2"/><circle cx="415.8" cy="995.0" r="3.2"/><circle cx="416.9" cy="992.7" r="3.2"/><circle cx="412.8" cy="984.5" r="3.2"/><circle cx="413.4" cy="980.5" r="3.2"/><circle cx="424.3" cy="941.3" r="3.2"/><circle cx="413.0" cy="985.0" r="3.2"/><circle cx="416.9" cy="922.1" r="3.2"/><circle cx="415.8" cy="952.9" r="3.2"/><circle cx="414.0" cy="912.3" r="3.2"/><circle cx="423.2" cy="974.3" r="3.2"/><circle cx="420.3" cy="903.8" r="3.2"/><circle cx="410.8" cy="977.6" r="3.2"/><circle cx="412.5" cy="985.9" r="3.2"/><circle cx="418.0" cy="961.4" r="3.2"/><circle cx="414.5" cy="964.2" r="3.2"/><circle cx="419.7" cy="942.9" r="3.2"/><circle cx="421.0" cy="943.5" r="3.2"/><circle cx="417.2" cy="945.6" r="3.2"/><circle cx="421.3" cy="902.0" r="3.2"/><circle cx="413.7" cy="950.0" r="3.2"/><circle cx="420.9" cy="978.2" r="3.2"/><circle cx="412.9" cy="946.8" r="3.2"/><circle cx="411.7" cy="948.3" r="3.2"/><circle cx="417.6" cy="912.8" r="3.2"/><circle cx="417.9" cy="909.0" r="3.2"/><circle cx="410.6" cy="952.1" r="3.2"/><circle cx="411.2" cy="965.2" r="3.2"/><circle cx="421.4" cy="975.1" r="3.2"/><circle cx="410.8" cy="952.3" r="3.2"/><circle cx="415.8" cy="951.5" r="3.2"/><circle cx="415.3" cy="997.5" r="3.2"/><circle cx="420.8" cy="987.9" r="3.2"/><circle cx="422.0" cy="975.0" r="3.2"/><circle cx="428.2" cy="919.6" r="3.2"/><circle cx="424.9" cy="950.3" r="3.2"/><circle cx="414.7" cy="994.0" r="3.2"/><circle cx="422.3" cy="980.8" r="3.2"/><circle cx="416.2" cy="906.3" r="3.2"/><circle cx="412.4" cy="977.5" r="3.2"/><circle cx="415.0" cy="991.9" r="3.2"/><circle cx="412.5" cy="983.6" r="3.2"/><circle cx="424.1" cy="951.3" r="3.2"/><circle cx="414.2" cy="921.1" r="3.2"/><circle cx="414.9" cy="951.7" r="3.2"/><circle cx="413.1" cy="903.4" r="3.2"/><circle cx="427.5" cy="916.2" r="3.2"/><circle cx="423.1" cy="969.6" r="3.2"/><circle cx="424.5" cy="917.0" r="3.2"/><circle cx="419.6" cy="911.5" r="3.2"/><circle cx="415.3" cy="965.1" r="3.2"/><circle cx="410.4" cy="899.8" r="3.2"/><circle cx="428.1" cy="900.7" r="3.2"/><circle cx="409.9" cy="901.9" r="3.2"/><circle cx="428.7" cy="902.8" r="3.2"/><circle cx="409.3" cy="904.0" r="3.2"/><circle cx="429.0" cy="904.9" r="3.2"/><circle cx="409.7" cy="906.1" r="3.2"/><circle cx="428.5" cy="907.0" r="3.2"/><circle cx="409.7" cy="908.2" r="3.2"/><circle cx="428.4" cy="909.1" r="3.2"/><circle cx="409.8" cy="910.3" r="3.2"/><circle cx="428.8" cy="911.2" r="3.2"/><circle cx="409.1" cy="912.4" r="3.2"/><circle cx="429.0" cy="913.3" r="3.2"/><circle cx="409.0" cy="914.5" r="3.2"/><circle cx="428.4" cy="915.4" r="3.2"/><circle cx="409.3" cy="916.6" r="3.2"/><circle cx="428.3" cy="917.5" r="3.2"/><circle cx="409.4" cy="918.7" r="3.2"/><circle cx="428.4" cy="919.6" r="3.2"/><circle cx="409.3" cy="920.8" r="3.2"/><circle cx="429.0" cy="921.7" r="3.2"/><circle cx="409.3" cy="922.9" r="3.2"/><circle cx="428.5" cy="923.8" r="3.2"/><circle cx="409.1" cy="925.0" r="3.2"/><circle cx="427.7" cy="925.9" r="3.2"/><circle cx="408.9" cy="927.1" r="3.2"/><circle cx="427.7" cy="928.0" r="3.2"/><circle cx="409.6" cy="929.2" r="3.2"/><circle cx="427.9" cy="930.1" r="3.2"/><circle cx="409.5" cy="931.3" r="3.2"/><circle cx="428.2" cy="932.2" r="3.2"/><circle cx="409.2" cy="933.4" r="3.2"/><circle cx="427.4" cy="934.3" r="3.2"/><circle cx="409.8" cy="935.5" r="3.2"/><circle cx="427.1" cy="936.4" r="3.2"/><circle cx="409.2" cy="937.6" r="3.2"/><circle cx="427.2" cy="938.5" r="3.2"/><circle cx="409.4" cy="939.7" r="3.2"/><circle cx="426.9" cy="940.6" r="3.2"/><circle cx="409.6" cy="941.8" r="3.2"/><circle cx="426.9" cy="942.7" r="3.2"/><circle cx="410.0" cy="943.9" r="3.2"/><circle cx="426.3" cy="944.8" r="3.2"/><circle cx="410.1" cy="946.0" r="3.2"/><circle cx="426.4" cy="946.9" r="3.2"/><circle cx="409.6" cy="948.1" r="3.2"/><circle cx="426.4" cy="949.0" r="3.2"/><circle cx="409.7" cy="950.2" r="3.2"/><circle cx="425.2" cy="951.1" r="3.2"/><circle cx="409.6" cy="952.3" r="3.2"/><circle cx="425.3" cy="953.2" r="3.2"/><circle cx="410.4" cy="954.4" r="3.2"/><circle cx="425.0" cy="955.3" r="3.2"/><circle cx="409.9" cy="956.5" r="3.2"/><circle cx="424.4" cy="957.4" r="3.2"/><circle cx="409.5" cy="958.6" r="3.2"/><circle cx="424.8" cy="959.5" r="3.2"/><circle cx="410.1" cy="960.7" r="3.2"/><circle cx="424.5" cy="961.6" r="3.2"/><circle cx="410.1" cy="962.8" r="3.2"/><circle cx="424.6" cy="963.7" r="3.2"/><circle cx="410.4" cy="964.9" r="3.2"/><circle cx="424.9" cy="965.8" r="3.2"/><circle cx="409.7" cy="967.0" r="3.2"/><circle cx="425.1" cy="967.9" r="3.2"/><circle cx="409.5" cy="969.1" r="3.2"/><circle cx="424.7" cy="970.0" r="3.2"/><circle cx="409.9" cy="971.2" r="3.2"/><circle cx="424.4" cy="972.1" r="3.2"/><circle cx="409.6" cy="973.3" r="3.2"/><circle cx="425.0" cy="974.2" r="3.2"/><circle cx="409.6" cy="975.4" r="3.2"/><circle cx="424.6" cy="976.3" r="3.2"/><circle cx="410.7" cy="977.5" r="3.2"/><circle cx="423.7" cy="978.4" r="3.2"/><circle cx="410.2" cy="979.6" r="3.2"/><circle cx="423.6" cy="980.5" r="3.2"/><circle cx="410.7" cy="981.7" r="3.2"/><circle cx="423.1" cy="982.6" r="3.2"/><circle cx="411.2" cy="983.8" r="3.2"/><circle cx="422.1" cy="984.7" r="3.2"/><circle cx="411.1" cy="985.9" r="3.2"/><circle cx="421.5" cy="986.8" r="3.2"/><circle cx="411.6" cy="988.0" r="3.2"/><circle cx="421.2" cy="988.9" r="3.2"/><circle cx="413.0" cy="990.1" r="3.2"/><circle cx="420.1" cy="991.0" r="3.2"/><circle cx="413.0" cy="992.2" r="3.2"/><circle cx="419.4" cy="993.1" r="3.2"/><circle cx="414.3" cy="994.3" r="3.2"/><circle cx="418.5" cy="995.2" r="3.2"/><circle cx="414.9" cy="996.4" r="3.2"/><circle cx="417.9" cy="997.3" r="3.2"/><circle cx="414.7" cy="998.5" r="3.2"/><circle cx="417.3" cy="999.4" r="3.2"/><circle cx="415.0" cy="1000.6" r="3.2"/><circle cx="417.1" cy="1001.5" r="3.2"/><circle cx="404.8" cy="931.5" r="3.2"/><circle cx="427.8" cy="964.3" r="3.2"/><circle cx="406.4" cy="965.8" r="3.2"/><circle cx="427.8" cy="951.4" r="3.2"/><circle cx="408.4" cy="972.7" r="3.2"/><circle cx="430.5" cy="925.1" r="3.2"/><circle cx="408.2" cy="988.8" r="3.2"/><circle cx="423.8" cy="981.1" r="3.2"/><circle cx="402.7" cy="924.7" r="3.2"/><circle cx="426.0" cy="968.7" r="3.2"/><circle cx="407.3" cy="968.9" r="3.2"/><circle cx="423.8" cy="981.1" r="3.2"/><circle cx="406.0" cy="922.8" r="3.2"/><circle cx="427.4" cy="958.4" r="3.2"/><circle cx="408.3" cy="961.5" r="3.2"/><circle cx="428.3" cy="943.7" r="3.2"/><circle cx="407.7" cy="964.5" r="3.2"/><circle cx="428.9" cy="940.8" r="3.2"/><circle cx="406.5" cy="952.9" r="3.2"/><circle cx="430.8" cy="920.3" r="3.2"/><circle cx="407.5" cy="908.1" r="3.2"/><circle cx="431.7" cy="914.2" r="3.2"/><circle cx="407.2" cy="910.7" r="3.2"/><circle cx="430.6" cy="932.4" r="3.2"/><circle cx="406.5" cy="903.6" r="3.2"/><circle cx="429.0" cy="964.0" r="3.2"/><circle cx="407.2" cy="964.4" r="3.2"/><circle cx="430.9" cy="907.0" r="3.2"/><circle cx="405.7" cy="934.1" r="3.2"/><circle cx="424.9" cy="975.6" r="3.2"/><circle cx="407.4" cy="907.0" r="3.2"/><circle cx="422.6" cy="984.2" r="3.2"/><circle cx="405.1" cy="910.7" r="3.2"/><circle cx="431.6" cy="911.2" r="3.2"/><circle cx="408.8" cy="978.1" r="3.2"/><circle cx="427.0" cy="958.7" r="3.2"/><circle cx="406.6" cy="958.5" r="3.2"/><circle cx="431.6" cy="910.1" r="3.2"/><circle cx="407.4" cy="969.9" r="3.2"/><circle cx="430.6" cy="930.0" r="3.2"/><circle cx="406.7" cy="902.9" r="3.2"/><circle cx="430.2" cy="926.7" r="3.2"/><circle cx="403.6" cy="934.5" r="3.2"/><circle cx="421.0" cy="988.7" r="3.2"/><circle cx="408.3" cy="978.5" r="3.2"/><circle cx="430.8" cy="903.8" r="3.2"/><circle cx="406.5" cy="940.7" r="3.2"/><circle cx="429.8" cy="932.6" r="3.2"/><circle cx="405.6" cy="949.9" r="3.2"/><circle cx="424.2" cy="979.5" r="3.2"/><circle cx="408.6" cy="975.6" r="3.2"/><circle cx="430.3" cy="901.1" r="3.2"/><circle cx="408.9" cy="970.4" r="3.2"/><circle cx="430.1" cy="901.4" r="3.2"/><circle cx="406.5" cy="945.7" r="3.2"/><circle cx="431.2" cy="917.8" r="3.2"/><circle cx="405.6" cy="932.6" r="3.2"/><circle cx="429.7" cy="924.7" r="3.2"/><circle cx="402.3" cy="926.8" r="3.2"/><circle cx="429.2" cy="964.7" r="3.2"/><circle cx="388.2" cy="934.6" r="3.2"/><circle cx="456.7" cy="969.2" r="3.2"/><circle cx="457.4" cy="972.6" r="3.2"/><circle cx="436.6" cy="961.4" r="3.2"/><circle cx="434.5" cy="934.8" r="3.2"/><circle cx="432.6" cy="948.5" r="3.2"/><circle cx="401.0" cy="916.6" r="3.2"/><circle cx="401.0" cy="929.4" r="3.2"/><circle cx="404.2" cy="946.4" r="3.2"/><circle cx="405.8" cy="964.6" r="3.2"/><circle cx="406.3" cy="983.7" r="3.2"/><circle cx="406.6" cy="988.0" r="3.2"/><circle cx="431.8" cy="906.0" r="3.2"/><circle cx="431.8" cy="913.0" r="3.2"/><circle cx="430.6" cy="921.0" r="3.2"/><circle cx="429.2" cy="944.6" r="3.2"/><circle cx="427.0" cy="953.6" r="3.2"/><circle cx="430.2" cy="964.6" r="3.2"/>
</g>
<g fill="#a19d9c">
<circle cx="415.7" cy="897.0" r="3.2"/><circle cx="416.2" cy="894.8" r="3.2"/><circle cx="415.7" cy="892.6" r="3.2"/><circle cx="416.4" cy="890.4" r="3.2"/><circle cx="416.3" cy="888.2" r="3.2"/><circle cx="416.4" cy="886.0" r="3.2"/><circle cx="416.2" cy="883.8" r="3.2"/><circle cx="416.0" cy="881.6" r="3.2"/><circle cx="416.0" cy="879.4" r="3.2"/><circle cx="416.0" cy="877.2" r="3.2"/><circle cx="416.5" cy="875.0" r="3.2"/><circle cx="415.7" cy="872.8" r="3.2"/><circle cx="416.5" cy="870.6" r="3.2"/><circle cx="415.6" cy="868.4" r="3.2"/><circle cx="415.8" cy="866.2" r="3.2"/><circle cx="415.9" cy="864.0" r="3.2"/><circle cx="416.5" cy="861.8" r="3.2"/><circle cx="416.1" cy="859.6" r="3.2"/><circle cx="416.0" cy="857.4" r="3.2"/><circle cx="416.5" cy="855.2" r="3.2"/><circle cx="415.8" cy="853.0" r="3.2"/><circle cx="416.1" cy="850.8" r="3.2"/><circle cx="416.1" cy="848.6" r="3.2"/><circle cx="416.4" cy="846.4" r="3.2"/><circle cx="416.4" cy="844.2" r="3.2"/><circle cx="416.2" cy="842.0" r="3.2"/><circle cx="415.9" cy="839.8" r="3.2"/><circle cx="415.9" cy="837.6" r="3.2"/><circle cx="415.8" cy="835.4" r="3.2"/><circle cx="416.4" cy="833.2" r="3.2"/><circle cx="416.3" cy="831.0" r="3.2"/><circle cx="416.3" cy="828.8" r="3.2"/><circle cx="415.8" cy="826.6" r="3.2"/><circle cx="416.0" cy="824.4" r="3.2"/><circle cx="416.4" cy="822.2" r="3.2"/><circle cx="416.2" cy="820.0" r="3.2"/><circle cx="415.7" cy="817.8" r="3.2"/><circle cx="416.1" cy="815.6" r="3.2"/><circle cx="416.5" cy="813.4" r="3.2"/><circle cx="415.8" cy="811.2" r="3.2"/><circle cx="415.8" cy="809.0" r="3.2"/><circle cx="415.9" cy="806.8" r="3.2"/><circle cx="416.3" cy="804.6" r="3.2"/><circle cx="416.4" cy="802.4" r="3.2"/><circle cx="415.8" cy="800.2" r="3.2"/><circle cx="415.8" cy="798.0" r="3.2"/><circle cx="415.8" cy="795.8" r="3.2"/><circle cx="415.9" cy="793.6" r="3.2"/><circle cx="416.1" cy="791.4" r="3.2"/><circle cx="415.8" cy="789.2" r="3.2"/><circle cx="415.9" cy="787.0" r="3.2"/><circle cx="415.8" cy="784.8" r="3.2"/><circle cx="416.6" cy="782.6" r="3.2"/><circle cx="416.3" cy="780.4" r="3.2"/><circle cx="415.7" cy="778.2" r="3.2"/><circle cx="416.6" cy="776.0" r="3.2"/><circle cx="415.7" cy="773.8" r="3.2"/><circle cx="416.0" cy="771.6" r="3.2"/><circle cx="416.6" cy="769.4" r="3.2"/><circle cx="416.4" cy="767.2" r="3.2"/><circle cx="416.3" cy="765.0" r="3.2"/><circle cx="416.0" cy="762.8" r="3.2"/><circle cx="415.8" cy="760.6" r="3.2"/><circle cx="416.2" cy="758.4" r="3.2"/><circle cx="415.7" cy="756.2" r="3.2"/><circle cx="415.8" cy="754.0" r="3.2"/><circle cx="416.0" cy="751.8" r="3.2"/><circle cx="415.6" cy="749.6" r="3.2"/><circle cx="416.0" cy="747.4" r="3.2"/><circle cx="416.4" cy="745.2" r="3.2"/><circle cx="416.3" cy="743.0" r="3.2"/><circle cx="416.1" cy="740.8" r="3.2"/><circle cx="416.2" cy="738.6" r="3.2"/><circle cx="416.1" cy="736.4" r="3.2"/><circle cx="415.7" cy="734.2" r="3.2"/><circle cx="416.2" cy="732.0" r="3.2"/><circle cx="416.0" cy="729.8" r="3.2"/><circle cx="416.3" cy="727.6" r="3.2"/><circle cx="416.5" cy="725.4" r="3.2"/><circle cx="416.0" cy="723.2" r="3.2"/><circle cx="416.2" cy="721.0" r="3.2"/><circle cx="416.3" cy="718.8" r="3.2"/><circle cx="416.0" cy="716.6" r="3.2"/><circle cx="415.8" cy="714.4" r="3.2"/><circle cx="416.3" cy="712.2" r="3.2"/><circle cx="413.2" cy="617.6" r="3.2"/><circle cx="419.6" cy="620.6" r="3.2"/><circle cx="411.7" cy="626.2" r="3.2"/><circle cx="413.6" cy="647.6" r="3.2"/><circle cx="414.2" cy="658.6" r="3.2"/><circle cx="413.0" cy="665.2" r="3.2"/><circle cx="413.6" cy="675.2" r="3.2"/><circle cx="414.5" cy="683.0" r="3.2"/><circle cx="413.2" cy="690.0" r="3.2"/><circle cx="414.6" cy="694.5" r="3.2"/><circle cx="413.6" cy="700.0" r="3.2"/><circle cx="419.3" cy="700.5" r="3.2"/><circle cx="413.2" cy="706.0" r="3.2"/><circle cx="414.0" cy="712.0" r="3.2"/><circle cx="416.5" cy="718.0" r="3.2"/><circle cx="418.2" cy="722.0" r="3.2"/><circle cx="414.8" cy="726.0" r="3.2"/><circle cx="416.2" cy="731.0" r="3.2"/>
</g>
<g fill="#4f80c0">
<circle cx="410.7" cy="896.6" r="3.2"/><circle cx="409.6" cy="895.5" r="3.2"/><circle cx="410.5" cy="894.4" r="3.2"/><circle cx="409.7" cy="893.3" r="3.2"/><circle cx="410.5" cy="892.2" r="3.2"/><circle cx="409.4" cy="891.1" r="3.2"/><circle cx="410.1" cy="890.0" r="3.2"/><circle cx="408.8" cy="888.9" r="3.2"/><circle cx="410.4" cy="887.8" r="3.2"/><circle cx="408.4" cy="886.7" r="3.2"/><circle cx="410.1" cy="885.6" r="3.2"/><circle cx="409.7" cy="884.5" r="3.2"/><circle cx="410.5" cy="883.4" r="3.2"/><circle cx="409.4" cy="882.3" r="3.2"/><circle cx="409.9" cy="881.2" r="3.2"/><circle cx="409.0" cy="880.1" r="3.2"/><circle cx="410.1" cy="879.0" r="3.2"/><circle cx="409.4" cy="877.9" r="3.2"/><circle cx="410.1" cy="876.8" r="3.2"/><circle cx="409.5" cy="875.7" r="3.2"/><circle cx="410.8" cy="874.6" r="3.2"/><circle cx="408.6" cy="873.5" r="3.2"/><circle cx="410.4" cy="872.4" r="3.2"/><circle cx="409.7" cy="871.3" r="3.2"/><circle cx="410.0" cy="870.2" r="3.2"/><circle cx="409.2" cy="869.1" r="3.2"/><circle cx="410.9" cy="868.0" r="3.2"/><circle cx="408.4" cy="866.9" r="3.2"/><circle cx="410.3" cy="865.8" r="3.2"/><circle cx="408.6" cy="864.7" r="3.2"/><circle cx="410.6" cy="863.6" r="3.2"/><circle cx="410.0" cy="862.5" r="3.2"/><circle cx="410.2" cy="861.4" r="3.2"/><circle cx="408.5" cy="860.3" r="3.2"/><circle cx="410.3" cy="859.2" r="3.2"/><circle cx="409.3" cy="858.1" r="3.2"/><circle cx="410.5" cy="857.0" r="3.2"/><circle cx="409.3" cy="855.9" r="3.2"/><circle cx="410.4" cy="854.8" r="3.2"/><circle cx="409.9" cy="853.7" r="3.2"/><circle cx="410.2" cy="852.6" r="3.2"/><circle cx="409.1" cy="851.5" r="3.2"/><circle cx="410.8" cy="850.4" r="3.2"/><circle cx="408.8" cy="849.3" r="3.2"/><circle cx="410.5" cy="848.2" r="3.2"/><circle cx="409.1" cy="847.1" r="3.2"/><circle cx="410.6" cy="846.0" r="3.2"/><circle cx="408.7" cy="844.9" r="3.2"/><circle cx="410.9" cy="843.8" r="3.2"/><circle cx="409.1" cy="842.7" r="3.2"/><circle cx="409.6" cy="841.6" r="3.2"/><circle cx="409.0" cy="840.5" r="3.2"/><circle cx="410.1" cy="839.4" r="3.2"/><circle cx="408.6" cy="838.3" r="3.2"/><circle cx="410.1" cy="837.2" r="3.2"/><circle cx="409.3" cy="836.1" r="3.2"/><circle cx="410.5" cy="835.0" r="3.2"/><circle cx="409.2" cy="833.9" r="3.2"/><circle cx="409.9" cy="832.8" r="3.2"/><circle cx="409.0" cy="831.7" r="3.2"/><circle cx="410.5" cy="830.6" r="3.2"/><circle cx="410.3" cy="829.5" r="3.2"/><circle cx="410.2" cy="828.4" r="3.2"/><circle cx="409.1" cy="827.3" r="3.2"/><circle cx="410.6" cy="826.2" r="3.2"/><circle cx="409.4" cy="825.1" r="3.2"/><circle cx="409.8" cy="824.0" r="3.2"/><circle cx="408.9" cy="822.9" r="3.2"/><circle cx="410.6" cy="821.8" r="3.2"/><circle cx="410.2" cy="820.7" r="3.2"/><circle cx="410.4" cy="819.6" r="3.2"/><circle cx="409.6" cy="818.5" r="3.2"/><circle cx="410.3" cy="817.4" r="3.2"/><circle cx="409.2" cy="816.3" r="3.2"/><circle cx="410.8" cy="815.2" r="3.2"/><circle cx="409.5" cy="814.1" r="3.2"/><circle cx="410.4" cy="813.0" r="3.2"/><circle cx="410.3" cy="811.9" r="3.2"/><circle cx="410.6" cy="810.8" r="3.2"/><circle cx="409.7" cy="809.7" r="3.2"/><circle cx="409.9" cy="808.6" r="3.2"/><circle cx="409.9" cy="807.5" r="3.2"/><circle cx="409.7" cy="806.4" r="3.2"/><circle cx="410.4" cy="805.3" r="3.2"/><circle cx="410.0" cy="804.2" r="3.2"/><circle cx="410.5" cy="803.1" r="3.2"/><circle cx="409.9" cy="802.0" r="3.2"/><circle cx="409.7" cy="800.9" r="3.2"/><circle cx="409.9" cy="799.8" r="3.2"/><circle cx="409.8" cy="798.7" r="3.2"/><circle cx="409.8" cy="797.6" r="3.2"/><circle cx="409.0" cy="796.5" r="3.2"/><circle cx="410.5" cy="795.4" r="3.2"/><circle cx="409.6" cy="794.3" r="3.2"/><circle cx="409.8" cy="793.2" r="3.2"/><circle cx="409.6" cy="792.1" r="3.2"/><circle cx="410.2" cy="791.0" r="3.2"/><circle cx="409.9" cy="789.9" r="3.2"/><circle cx="410.4" cy="788.8" r="3.2"/><circle cx="410.4" cy="787.7" r="3.2"/><circle cx="410.0" cy="786.6" r="3.2"/><circle cx="410.9" cy="785.5" r="3.2"/><circle cx="410.7" cy="784.4" r="3.2"/><circle cx="409.3" cy="783.3" r="3.2"/><circle cx="410.7" cy="782.2" r="3.2"/><circle cx="410.9" cy="781.1" r="3.2"/><circle cx="410.6" cy="780.0" r="3.2"/><circle cx="409.6" cy="778.9" r="3.2"/><circle cx="410.7" cy="777.8" r="3.2"/><circle cx="410.5" cy="776.7" r="3.2"/><circle cx="409.5" cy="775.6" r="3.2"/><circle cx="409.4" cy="774.5" r="3.2"/><circle cx="410.8" cy="773.4" r="3.2"/><circle cx="410.6" cy="772.3" r="3.2"/><circle cx="409.9" cy="771.2" r="3.2"/><circle cx="409.6" cy="770.1" r="3.2"/><circle cx="409.7" cy="769.0" r="3.2"/><circle cx="409.9" cy="767.9" r="3.2"/><circle cx="410.6" cy="766.8" r="3.2"/><circle cx="410.1" cy="765.7" r="3.2"/><circle cx="409.7" cy="764.6" r="3.2"/><circle cx="411.2" cy="763.5" r="3.2"/><circle cx="410.6" cy="762.4" r="3.2"/><circle cx="409.9" cy="761.3" r="3.2"/><circle cx="410.7" cy="760.2" r="3.2"/><circle cx="410.7" cy="759.1" r="3.2"/><circle cx="410.6" cy="758.0" r="3.2"/><circle cx="410.8" cy="756.9" r="3.2"/><circle cx="410.8" cy="755.8" r="3.2"/><circle cx="411.1" cy="754.7" r="3.2"/><circle cx="410.7" cy="753.6" r="3.2"/><circle cx="410.1" cy="752.5" r="3.2"/><circle cx="410.5" cy="751.4" r="3.2"/><circle cx="410.7" cy="750.3" r="3.2"/><circle cx="410.5" cy="749.2" r="3.2"/><circle cx="410.6" cy="748.1" r="3.2"/><circle cx="410.7" cy="747.0" r="3.2"/><circle cx="410.8" cy="745.9" r="3.2"/><circle cx="409.9" cy="744.8" r="3.2"/><circle cx="410.3" cy="743.7" r="3.2"/><circle cx="409.7" cy="742.6" r="3.2"/><circle cx="410.8" cy="741.5" r="3.2"/><circle cx="409.6" cy="740.4" r="3.2"/><circle cx="410.8" cy="739.3" r="3.2"/><circle cx="409.7" cy="738.2" r="3.2"/><circle cx="410.9" cy="737.1" r="3.2"/><circle cx="410.2" cy="736.0" r="3.2"/><circle cx="411.0" cy="734.9" r="3.2"/><circle cx="410.7" cy="733.8" r="3.2"/><circle cx="410.1" cy="732.7" r="3.2"/><circle cx="410.7" cy="731.6" r="3.2"/><circle cx="410.9" cy="730.5" r="3.2"/><circle cx="410.3" cy="729.4" r="3.2"/><circle cx="411.3" cy="728.3" r="3.2"/><circle cx="410.7" cy="727.2" r="3.2"/><circle cx="410.8" cy="726.1" r="3.2"/><circle cx="410.1" cy="725.0" r="3.2"/><circle cx="411.9" cy="723.9" r="3.2"/><circle cx="409.6" cy="722.8" r="3.2"/><circle cx="411.4" cy="721.7" r="3.2"/><circle cx="410.2" cy="886.0" r="3.2"/><circle cx="410.3" cy="884.3" r="3.2"/><circle cx="411.0" cy="840.0" r="3.2"/><circle cx="410.0" cy="870.8" r="3.2"/><circle cx="410.4" cy="748.3" r="3.2"/><circle cx="410.4" cy="882.6" r="3.2"/><circle cx="410.7" cy="852.1" r="3.2"/><circle cx="409.7" cy="851.9" r="3.2"/><circle cx="410.6" cy="812.6" r="3.2"/><circle cx="409.3" cy="883.4" r="3.2"/><circle cx="410.2" cy="829.7" r="3.2"/><circle cx="410.6" cy="868.0" r="3.2"/><circle cx="409.8" cy="862.1" r="3.2"/><circle cx="410.5" cy="770.5" r="3.2"/><circle cx="410.9" cy="885.7" r="3.2"/><circle cx="410.5" cy="814.6" r="3.2"/><circle cx="409.5" cy="880.7" r="3.2"/><circle cx="409.7" cy="836.4" r="3.2"/><circle cx="410.7" cy="811.9" r="3.2"/><circle cx="409.1" cy="845.6" r="3.2"/><circle cx="410.0" cy="872.1" r="3.2"/><circle cx="410.3" cy="753.4" r="3.2"/><circle cx="409.2" cy="894.6" r="3.2"/><circle cx="410.8" cy="889.6" r="3.2"/><circle cx="410.7" cy="817.5" r="3.2"/><circle cx="410.8" cy="832.3" r="3.2"/><circle cx="410.4" cy="823.0" r="3.2"/><circle cx="410.4" cy="834.4" r="3.2"/><circle cx="409.8" cy="810.0" r="3.2"/><circle cx="410.4" cy="836.8" r="3.2"/><circle cx="410.0" cy="782.4" r="3.2"/><circle cx="409.3" cy="865.9" r="3.2"/><circle cx="410.9" cy="779.4" r="3.2"/><circle cx="410.3" cy="869.2" r="3.2"/><circle cx="410.7" cy="808.6" r="3.2"/><circle cx="410.4" cy="801.5" r="3.2"/><circle cx="409.7" cy="894.0" r="3.2"/><circle cx="409.7" cy="837.7" r="3.2"/><circle cx="410.9" cy="806.1" r="3.2"/><circle cx="409.1" cy="854.7" r="3.2"/><circle cx="409.1" cy="878.9" r="3.2"/><circle cx="410.6" cy="888.8" r="3.2"/><circle cx="410.6" cy="757.4" r="3.2"/><circle cx="409.3" cy="825.5" r="3.2"/><circle cx="410.9" cy="825.9" r="3.2"/><circle cx="411.0" cy="836.0" r="3.2"/><circle cx="409.5" cy="825.7" r="3.2"/><circle cx="410.2" cy="885.9" r="3.2"/><circle cx="408.9" cy="887.6" r="3.2"/><circle cx="409.0" cy="858.0" r="3.2"/><circle cx="410.9" cy="882.6" r="3.2"/><circle cx="409.1" cy="864.4" r="3.2"/><circle cx="408.9" cy="871.9" r="3.2"/><circle cx="410.4" cy="870.1" r="3.2"/><circle cx="409.2" cy="891.5" r="3.2"/><circle cx="409.9" cy="783.3" r="3.2"/><circle cx="410.7" cy="880.4" r="3.2"/><circle cx="410.7" cy="787.6" r="3.2"/><circle cx="410.6" cy="812.0" r="3.2"/><circle cx="409.9" cy="847.2" r="3.2"/><circle cx="410.9" cy="848.2" r="3.2"/><circle cx="410.4" cy="874.9" r="3.2"/><circle cx="410.2" cy="885.0" r="3.2"/><circle cx="410.6" cy="896.1" r="3.2"/><circle cx="410.5" cy="844.0" r="3.2"/><circle cx="409.3" cy="868.0" r="3.2"/><circle cx="409.2" cy="845.1" r="3.2"/><circle cx="409.8" cy="835.1" r="3.2"/><circle cx="410.4" cy="830.0" r="3.2"/><circle cx="409.2" cy="862.9" r="3.2"/><circle cx="410.2" cy="877.5" r="3.2"/><circle cx="410.3" cy="833.4" r="3.2"/><circle cx="410.6" cy="836.9" r="3.2"/><circle cx="410.9" cy="862.9" r="3.2"/><circle cx="409.5" cy="877.5" r="3.2"/><circle cx="409.6" cy="808.6" r="3.2"/><circle cx="410.8" cy="789.3" r="3.2"/><circle cx="409.6" cy="879.2" r="3.2"/><circle cx="410.9" cy="745.3" r="3.2"/><circle cx="410.6" cy="778.1" r="3.2"/><circle cx="410.8" cy="870.3" r="3.2"/><circle cx="409.9" cy="827.9" r="3.2"/><circle cx="410.8" cy="859.2" r="3.2"/><circle cx="410.7" cy="809.9" r="3.2"/><circle cx="409.4" cy="896.2" r="3.2"/><circle cx="409.7" cy="893.0" r="3.2"/><circle cx="410.9" cy="786.8" r="3.2"/><circle cx="409.3" cy="830.3" r="3.2"/><circle cx="410.8" cy="833.1" r="3.2"/><circle cx="410.5" cy="786.2" r="3.2"/><circle cx="410.6" cy="876.6" r="3.2"/><circle cx="410.7" cy="761.9" r="3.2"/><circle cx="409.3" cy="841.6" r="3.2"/><circle cx="410.1" cy="863.7" r="3.2"/><circle cx="410.5" cy="883.3" r="3.2"/><circle cx="410.9" cy="852.2" r="3.2"/><circle cx="410.3" cy="887.4" r="3.2"/><circle cx="410.2" cy="801.8" r="3.2"/><circle cx="410.5" cy="882.5" r="3.2"/><circle cx="410.6" cy="845.3" r="3.2"/><circle cx="410.6" cy="868.0" r="3.2"/><circle cx="410.5" cy="889.5" r="3.2"/><circle cx="410.8" cy="887.1" r="3.2"/><circle cx="410.8" cy="805.4" r="3.2"/><circle cx="410.3" cy="818.1" r="3.2"/><circle cx="409.3" cy="886.1" r="3.2"/><circle cx="410.4" cy="881.3" r="3.2"/><circle cx="409.7" cy="855.7" r="3.2"/><circle cx="410.1" cy="831.7" r="3.2"/><circle cx="409.2" cy="869.0" r="3.2"/><circle cx="406.7" cy="816.5" r="3.2"/><circle cx="408.0" cy="802.5" r="3.2"/><circle cx="406.0" cy="822.6" r="3.2"/><circle cx="406.3" cy="833.0" r="3.2"/><circle cx="404.9" cy="852.2" r="3.2"/><circle cx="406.9" cy="842.7" r="3.2"/><circle cx="405.9" cy="787.4" r="3.2"/><circle cx="407.0" cy="887.6" r="3.2"/><circle cx="409.9" cy="713.2" r="3.2"/><circle cx="408.1" cy="804.7" r="3.2"/><circle cx="405.2" cy="833.6" r="3.2"/><circle cx="404.3" cy="882.2" r="3.2"/><circle cx="404.0" cy="882.0" r="3.2"/><circle cx="407.1" cy="864.8" r="3.2"/><circle cx="407.8" cy="832.3" r="3.2"/><circle cx="407.8" cy="828.7" r="3.2"/><circle cx="406.6" cy="791.4" r="3.2"/><circle cx="405.0" cy="852.0" r="3.2"/><circle cx="406.4" cy="833.6" r="3.2"/><circle cx="405.7" cy="880.4" r="3.2"/><circle cx="406.4" cy="775.2" r="3.2"/><circle cx="406.8" cy="862.8" r="3.2"/><circle cx="408.6" cy="778.4" r="3.2"/><circle cx="409.3" cy="710.8" r="3.2"/><circle cx="405.7" cy="833.6" r="3.2"/><circle cx="406.9" cy="881.3" r="3.2"/><circle cx="406.4" cy="763.3" r="3.2"/><circle cx="408.0" cy="805.6" r="3.2"/><circle cx="408.1" cy="866.2" r="3.2"/><circle cx="405.6" cy="778.3" r="3.2"/><circle cx="408.4" cy="809.5" r="3.2"/><circle cx="407.0" cy="784.5" r="3.2"/><circle cx="407.5" cy="862.7" r="3.2"/><circle cx="405.7" cy="788.6" r="3.2"/><circle cx="406.4" cy="867.7" r="3.2"/><circle cx="405.6" cy="838.4" r="3.2"/><circle cx="406.4" cy="866.3" r="3.2"/><circle cx="406.0" cy="842.3" r="3.2"/><circle cx="406.6" cy="762.3" r="3.2"/><circle cx="404.9" cy="886.3" r="3.2"/><circle cx="407.2" cy="843.1" r="3.2"/><circle cx="407.7" cy="870.7" r="3.2"/><circle cx="406.8" cy="861.3" r="3.2"/><circle cx="406.4" cy="867.0" r="3.2"/><circle cx="408.6" cy="749.7" r="3.2"/><circle cx="406.5" cy="826.3" r="3.2"/><circle cx="408.9" cy="614.4" r="3.2"/><circle cx="404.6" cy="633.0" r="3.2"/><circle cx="407.2" cy="635.2" r="3.2"/><circle cx="410.8" cy="631.6" r="3.2"/><circle cx="406.9" cy="643.7" r="3.2"/><circle cx="409.6" cy="652.0" r="3.2"/><circle cx="410.6" cy="670.0" r="3.2"/><circle cx="408.6" cy="680.0" r="3.2"/><circle cx="405.2" cy="689.2" r="3.2"/><circle cx="409.2" cy="688.0" r="3.2"/><circle cx="411.0" cy="695.0" r="3.2"/><circle cx="410.6" cy="706.0" r="3.2"/><circle cx="409.4" cy="717.5" r="3.2"/><circle cx="408.6" cy="725.0" r="3.2"/><circle cx="410.8" cy="731.0" r="3.2"/><circle cx="410.8" cy="700.5" r="3.2"/><circle cx="410.2" cy="712.0" r="3.2"/><circle cx="409.0" cy="738.0" r="3.2"/><circle cx="368.7" cy="670.8" r="3.2"/><circle cx="370.2" cy="693.0" r="3.2"/><circle cx="393.9" cy="686.0" r="3.2"/><circle cx="393.9" cy="736.0" r="3.2"/><circle cx="393.3" cy="794.1" r="3.2"/><circle cx="399.4" cy="774.5" r="3.2"/><circle cx="402.4" cy="774.8" r="3.2"/><circle cx="400.9" cy="782.2" r="3.2"/><circle cx="403.8" cy="846.4" r="3.2"/><circle cx="403.2" cy="875.4" r="3.2"/><circle cx="403.2" cy="883.8" r="3.2"/><circle cx="115.8" cy="593.7" r="3.2"/><circle cx="115.8" cy="597.3" r="3.2"/><circle cx="115.8" cy="647.5" r="3.2"/><circle cx="115.8" cy="703.1" r="3.2"/><circle cx="115.8" cy="850.3" r="3.2"/>
</g>
<g fill="#ec3126">
<circle cx="421.9" cy="896.6" r="3.2"/><circle cx="427.4" cy="895.5" r="3.2"/><circle cx="422.1" cy="894.4" r="3.2"/><circle cx="427.1" cy="893.3" r="3.2"/><circle cx="421.7" cy="892.2" r="3.2"/><circle cx="426.2" cy="891.1" r="3.2"/><circle cx="421.6" cy="890.0" r="3.2"/><circle cx="427.2" cy="888.9" r="3.2"/><circle cx="422.2" cy="887.8" r="3.2"/><circle cx="426.1" cy="886.7" r="3.2"/><circle cx="422.5" cy="885.6" r="3.2"/><circle cx="426.3" cy="884.5" r="3.2"/><circle cx="422.0" cy="883.4" r="3.2"/><circle cx="426.1" cy="882.3" r="3.2"/><circle cx="421.8" cy="881.2" r="3.2"/><circle cx="427.5" cy="880.1" r="3.2"/><circle cx="421.9" cy="879.0" r="3.2"/><circle cx="426.1" cy="877.9" r="3.2"/><circle cx="422.1" cy="876.8" r="3.2"/><circle cx="426.4" cy="875.7" r="3.2"/><circle cx="422.6" cy="874.6" r="3.2"/><circle cx="426.0" cy="873.5" r="3.2"/><circle cx="422.7" cy="872.4" r="3.2"/><circle cx="425.9" cy="871.3" r="3.2"/><circle cx="422.6" cy="870.2" r="3.2"/><circle cx="427.1" cy="869.1" r="3.2"/><circle cx="421.8" cy="868.0" r="3.2"/><circle cx="426.8" cy="866.9" r="3.2"/><circle cx="421.8" cy="865.8" r="3.2"/><circle cx="426.3" cy="864.7" r="3.2"/><circle cx="421.7" cy="863.6" r="3.2"/><circle cx="426.5" cy="862.5" r="3.2"/><circle cx="422.7" cy="861.4" r="3.2"/><circle cx="427.8" cy="860.3" r="3.2"/><circle cx="422.6" cy="859.2" r="3.2"/><circle cx="426.0" cy="858.1" r="3.2"/><circle cx="421.8" cy="857.0" r="3.2"/><circle cx="427.6" cy="855.9" r="3.2"/><circle cx="421.6" cy="854.8" r="3.2"/><circle cx="427.3" cy="853.7" r="3.2"/><circle cx="421.9" cy="852.6" r="3.2"/><circle cx="427.8" cy="851.5" r="3.2"/><circle cx="421.5" cy="850.4" r="3.2"/><circle cx="427.4" cy="849.3" r="3.2"/><circle cx="421.9" cy="848.2" r="3.2"/><circle cx="426.1" cy="847.1" r="3.2"/><circle cx="421.5" cy="846.0" r="3.2"/><circle cx="427.4" cy="844.9" r="3.2"/><circle cx="422.1" cy="843.8" r="3.2"/><circle cx="426.1" cy="842.7" r="3.2"/><circle cx="422.0" cy="841.6" r="3.2"/><circle cx="427.5" cy="840.5" r="3.2"/><circle cx="421.8" cy="839.4" r="3.2"/><circle cx="426.8" cy="838.3" r="3.2"/><circle cx="421.7" cy="837.2" r="3.2"/><circle cx="426.0" cy="836.1" r="3.2"/><circle cx="422.4" cy="835.0" r="3.2"/><circle cx="427.0" cy="833.9" r="3.2"/><circle cx="421.7" cy="832.8" r="3.2"/><circle cx="425.8" cy="831.7" r="3.2"/><circle cx="421.6" cy="830.6" r="3.2"/><circle cx="426.8" cy="829.5" r="3.2"/><circle cx="422.1" cy="828.4" r="3.2"/><circle cx="426.1" cy="827.3" r="3.2"/><circle cx="421.7" cy="826.2" r="3.2"/><circle cx="426.7" cy="825.1" r="3.2"/><circle cx="422.3" cy="824.0" r="3.2"/><circle cx="427.1" cy="822.9" r="3.2"/><circle cx="422.2" cy="821.8" r="3.2"/><circle cx="425.9" cy="820.7" r="3.2"/><circle cx="421.6" cy="819.6" r="3.2"/><circle cx="426.9" cy="818.5" r="3.2"/><circle cx="422.0" cy="817.4" r="3.2"/><circle cx="426.9" cy="816.3" r="3.2"/><circle cx="421.6" cy="815.2" r="3.2"/><circle cx="427.0" cy="814.1" r="3.2"/><circle cx="421.9" cy="813.0" r="3.2"/><circle cx="427.0" cy="811.9" r="3.2"/><circle cx="422.5" cy="810.8" r="3.2"/><circle cx="426.3" cy="809.7" r="3.2"/><circle cx="421.5" cy="808.6" r="3.2"/><circle cx="427.1" cy="807.5" r="3.2"/><circle cx="422.1" cy="806.4" r="3.2"/><circle cx="427.0" cy="805.3" r="3.2"/><circle cx="421.8" cy="804.2" r="3.2"/><circle cx="425.6" cy="803.1" r="3.2"/><circle cx="422.5" cy="802.0" r="3.2"/><circle cx="426.0" cy="800.9" r="3.2"/><circle cx="421.7" cy="799.8" r="3.2"/><circle cx="425.9" cy="798.7" r="3.2"/><circle cx="422.2" cy="797.6" r="3.2"/><circle cx="425.2" cy="796.5" r="3.2"/><circle cx="422.1" cy="795.4" r="3.2"/><circle cx="426.0" cy="794.3" r="3.2"/><circle cx="422.1" cy="793.2" r="3.2"/><circle cx="425.3" cy="792.1" r="3.2"/><circle cx="422.4" cy="791.0" r="3.2"/><circle cx="426.7" cy="789.9" r="3.2"/><circle cx="422.5" cy="788.8" r="3.2"/><circle cx="425.6" cy="787.7" r="3.2"/><circle cx="422.4" cy="786.6" r="3.2"/><circle cx="425.7" cy="785.5" r="3.2"/><circle cx="422.4" cy="784.4" r="3.2"/><circle cx="425.0" cy="783.3" r="3.2"/><circle cx="422.5" cy="782.2" r="3.2"/><circle cx="426.8" cy="781.1" r="3.2"/><circle cx="422.1" cy="780.0" r="3.2"/><circle cx="425.8" cy="778.9" r="3.2"/><circle cx="422.1" cy="777.8" r="3.2"/><circle cx="425.8" cy="776.7" r="3.2"/><circle cx="421.5" cy="775.6" r="3.2"/><circle cx="426.6" cy="774.5" r="3.2"/><circle cx="421.8" cy="773.4" r="3.2"/><circle cx="425.0" cy="772.3" r="3.2"/><circle cx="421.6" cy="771.2" r="3.2"/><circle cx="425.1" cy="770.1" r="3.2"/><circle cx="422.5" cy="769.0" r="3.2"/><circle cx="424.6" cy="767.9" r="3.2"/><circle cx="421.6" cy="766.8" r="3.2"/><circle cx="425.9" cy="765.7" r="3.2"/><circle cx="421.7" cy="764.6" r="3.2"/><circle cx="424.5" cy="763.5" r="3.2"/><circle cx="422.2" cy="762.4" r="3.2"/><circle cx="425.6" cy="761.3" r="3.2"/><circle cx="422.1" cy="760.2" r="3.2"/><circle cx="425.8" cy="759.1" r="3.2"/><circle cx="421.6" cy="758.0" r="3.2"/><circle cx="426.1" cy="756.9" r="3.2"/><circle cx="422.4" cy="755.8" r="3.2"/><circle cx="424.4" cy="754.7" r="3.2"/><circle cx="421.6" cy="753.6" r="3.2"/><circle cx="425.3" cy="752.5" r="3.2"/><circle cx="422.1" cy="751.4" r="3.2"/><circle cx="424.8" cy="750.3" r="3.2"/><circle cx="421.6" cy="749.2" r="3.2"/><circle cx="425.0" cy="748.1" r="3.2"/><circle cx="421.7" cy="747.0" r="3.2"/><circle cx="425.3" cy="745.9" r="3.2"/><circle cx="422.5" cy="744.8" r="3.2"/><circle cx="424.4" cy="743.7" r="3.2"/><circle cx="422.2" cy="742.6" r="3.2"/><circle cx="425.5" cy="741.5" r="3.2"/><circle cx="421.7" cy="740.4" r="3.2"/><circle cx="425.7" cy="739.3" r="3.2"/><circle cx="422.6" cy="738.2" r="3.2"/><circle cx="424.7" cy="737.1" r="3.2"/><circle cx="422.0" cy="736.0" r="3.2"/><circle cx="425.6" cy="734.9" r="3.2"/><circle cx="422.1" cy="733.8" r="3.2"/><circle cx="424.7" cy="732.7" r="3.2"/><circle cx="422.6" cy="731.6" r="3.2"/><circle cx="425.4" cy="730.5" r="3.2"/><circle cx="421.9" cy="729.4" r="3.2"/><circle cx="424.3" cy="728.3" r="3.2"/><circle cx="421.9" cy="727.2" r="3.2"/><circle cx="424.6" cy="726.1" r="3.2"/><circle cx="422.7" cy="725.0" r="3.2"/><circle cx="425.3" cy="723.9" r="3.2"/><circle cx="422.6" cy="722.8" r="3.2"/><circle cx="425.3" cy="721.7" r="3.2"/><circle cx="422.5" cy="720.6" r="3.2"/><circle cx="423.7" cy="719.5" r="3.2"/><circle cx="422.1" cy="718.4" r="3.2"/><circle cx="425.5" cy="717.3" r="3.2"/><circle cx="422.6" cy="716.2" r="3.2"/><circle cx="423.9" cy="715.1" r="3.2"/><circle cx="422.0" cy="714.0" r="3.2"/><circle cx="424.6" cy="712.9" r="3.2"/><circle cx="421.9" cy="711.8" r="3.2"/><circle cx="424.3" cy="710.7" r="3.2"/><circle cx="421.6" cy="709.6" r="3.2"/><circle cx="424.1" cy="708.5" r="3.2"/><circle cx="422.1" cy="707.4" r="3.2"/><circle cx="423.1" cy="706.3" r="3.2"/><circle cx="421.7" cy="705.2" r="3.2"/><circle cx="424.9" cy="704.1" r="3.2"/><circle cx="422.4" cy="703.0" r="3.2"/><circle cx="424.8" cy="701.9" r="3.2"/><circle cx="422.3" cy="700.8" r="3.2"/><circle cx="424.5" cy="699.7" r="3.2"/><circle cx="421.6" cy="772.7" r="3.2"/><circle cx="424.6" cy="786.6" r="3.2"/><circle cx="423.0" cy="885.1" r="3.2"/><circle cx="424.0" cy="777.1" r="3.2"/><circle cx="422.7" cy="797.9" r="3.2"/><circle cx="424.4" cy="846.0" r="3.2"/><circle cx="422.4" cy="717.4" r="3.2"/><circle cx="423.1" cy="817.5" r="3.2"/><circle cx="424.8" cy="872.7" r="3.2"/><circle cx="426.9" cy="864.6" r="3.2"/><circle cx="424.0" cy="834.0" r="3.2"/><circle cx="424.5" cy="891.5" r="3.2"/><circle cx="422.2" cy="872.5" r="3.2"/><circle cx="423.1" cy="864.0" r="3.2"/><circle cx="422.8" cy="842.1" r="3.2"/><circle cx="421.9" cy="860.4" r="3.2"/><circle cx="424.0" cy="750.3" r="3.2"/><circle cx="424.7" cy="853.1" r="3.2"/><circle cx="425.5" cy="865.6" r="3.2"/><circle cx="424.1" cy="853.5" r="3.2"/><circle cx="423.8" cy="791.8" r="3.2"/><circle cx="423.2" cy="864.2" r="3.2"/><circle cx="424.4" cy="894.2" r="3.2"/><circle cx="423.6" cy="840.4" r="3.2"/><circle cx="423.4" cy="886.4" r="3.2"/><circle cx="426.4" cy="890.7" r="3.2"/><circle cx="424.3" cy="889.7" r="3.2"/><circle cx="422.9" cy="795.2" r="3.2"/><circle cx="425.7" cy="830.2" r="3.2"/><circle cx="422.3" cy="891.8" r="3.2"/><circle cx="423.2" cy="749.1" r="3.2"/><circle cx="421.7" cy="831.0" r="3.2"/><circle cx="425.5" cy="831.4" r="3.2"/><circle cx="422.0" cy="841.2" r="3.2"/><circle cx="425.7" cy="865.5" r="3.2"/><circle cx="421.8" cy="697.0" r="3.2"/><circle cx="425.3" cy="858.2" r="3.2"/><circle cx="424.9" cy="833.3" r="3.2"/><circle cx="424.2" cy="809.8" r="3.2"/><circle cx="424.9" cy="776.9" r="3.2"/><circle cx="424.2" cy="891.3" r="3.2"/><circle cx="424.9" cy="762.0" r="3.2"/><circle cx="422.1" cy="851.3" r="3.2"/><circle cx="424.6" cy="725.5" r="3.2"/><circle cx="424.0" cy="760.8" r="3.2"/><circle cx="424.3" cy="893.3" r="3.2"/><circle cx="423.5" cy="795.6" r="3.2"/><circle cx="425.9" cy="872.8" r="3.2"/><circle cx="423.5" cy="820.7" r="3.2"/><circle cx="423.9" cy="818.6" r="3.2"/><circle cx="422.8" cy="773.3" r="3.2"/><circle cx="423.7" cy="863.5" r="3.2"/><circle cx="423.2" cy="822.9" r="3.2"/><circle cx="426.0" cy="870.1" r="3.2"/><circle cx="423.9" cy="841.9" r="3.2"/><circle cx="422.4" cy="820.7" r="3.2"/><circle cx="424.7" cy="882.1" r="3.2"/><circle cx="424.8" cy="854.8" r="3.2"/><circle cx="422.7" cy="743.9" r="3.2"/><circle cx="425.8" cy="802.6" r="3.2"/><circle cx="422.4" cy="790.7" r="3.2"/><circle cx="423.0" cy="725.2" r="3.2"/><circle cx="421.7" cy="887.1" r="3.2"/><circle cx="424.7" cy="890.8" r="3.2"/><circle cx="424.1" cy="717.1" r="3.2"/><circle cx="424.5" cy="894.0" r="3.2"/><circle cx="424.1" cy="800.4" r="3.2"/><circle cx="425.4" cy="896.0" r="3.2"/><circle cx="424.8" cy="839.1" r="3.2"/><circle cx="423.4" cy="848.8" r="3.2"/><circle cx="424.0" cy="783.2" r="3.2"/><circle cx="422.0" cy="858.4" r="3.2"/><circle cx="424.6" cy="839.9" r="3.2"/><circle cx="424.7" cy="839.5" r="3.2"/><circle cx="423.4" cy="746.5" r="3.2"/><circle cx="423.3" cy="755.4" r="3.2"/><circle cx="422.5" cy="708.0" r="3.2"/><circle cx="423.1" cy="709.0" r="3.2"/><circle cx="423.2" cy="877.3" r="3.2"/><circle cx="427.1" cy="852.2" r="3.2"/><circle cx="422.0" cy="852.9" r="3.2"/><circle cx="426.2" cy="811.8" r="3.2"/><circle cx="427.1" cy="842.3" r="3.2"/><circle cx="425.3" cy="759.2" r="3.2"/><circle cx="423.1" cy="856.0" r="3.2"/><circle cx="424.4" cy="874.8" r="3.2"/><circle cx="422.4" cy="845.4" r="3.2"/><circle cx="425.1" cy="895.4" r="3.2"/><circle cx="427.0" cy="837.5" r="3.2"/><circle cx="425.1" cy="851.9" r="3.2"/><circle cx="425.7" cy="817.5" r="3.2"/><circle cx="423.2" cy="875.4" r="3.2"/><circle cx="423.2" cy="894.4" r="3.2"/><circle cx="426.3" cy="890.4" r="3.2"/><circle cx="422.4" cy="795.2" r="3.2"/><circle cx="424.2" cy="835.7" r="3.2"/><circle cx="425.1" cy="837.6" r="3.2"/><circle cx="424.5" cy="876.3" r="3.2"/><circle cx="423.5" cy="792.4" r="3.2"/><circle cx="422.1" cy="895.1" r="3.2"/><circle cx="422.0" cy="822.3" r="3.2"/><circle cx="421.9" cy="784.5" r="3.2"/><circle cx="426.2" cy="850.4" r="3.2"/><circle cx="424.7" cy="811.6" r="3.2"/><circle cx="421.5" cy="887.0" r="3.2"/><circle cx="425.9" cy="870.1" r="3.2"/><circle cx="423.4" cy="841.0" r="3.2"/><circle cx="422.2" cy="783.2" r="3.2"/><circle cx="426.6" cy="893.2" r="3.2"/><circle cx="424.8" cy="860.6" r="3.2"/><circle cx="423.6" cy="846.1" r="3.2"/><circle cx="421.7" cy="825.9" r="3.2"/><circle cx="426.6" cy="815.3" r="3.2"/><circle cx="423.8" cy="829.9" r="3.2"/><circle cx="421.7" cy="852.9" r="3.2"/><circle cx="426.8" cy="855.5" r="3.2"/><circle cx="426.6" cy="854.5" r="3.2"/><circle cx="426.1" cy="842.0" r="3.2"/><circle cx="427.0" cy="861.0" r="3.2"/><circle cx="423.9" cy="794.4" r="3.2"/><circle cx="423.6" cy="840.3" r="3.2"/><circle cx="425.6" cy="878.5" r="3.2"/><circle cx="426.5" cy="884.7" r="3.2"/><circle cx="424.1" cy="829.3" r="3.2"/><circle cx="422.4" cy="881.1" r="3.2"/><circle cx="423.4" cy="839.4" r="3.2"/><circle cx="423.0" cy="814.1" r="3.2"/><circle cx="423.0" cy="700.3" r="3.2"/><circle cx="423.5" cy="822.8" r="3.2"/><circle cx="423.6" cy="831.7" r="3.2"/><circle cx="426.2" cy="859.4" r="3.2"/><circle cx="423.4" cy="880.6" r="3.2"/><circle cx="423.0" cy="895.3" r="3.2"/><circle cx="422.8" cy="844.9" r="3.2"/><circle cx="423.0" cy="781.6" r="3.2"/><circle cx="422.3" cy="871.3" r="3.2"/><circle cx="423.0" cy="887.3" r="3.2"/><circle cx="426.2" cy="863.1" r="3.2"/><circle cx="426.1" cy="836.9" r="3.2"/><circle cx="425.9" cy="834.7" r="3.2"/><circle cx="425.6" cy="856.7" r="3.2"/><circle cx="423.5" cy="834.2" r="3.2"/><circle cx="426.8" cy="844.2" r="3.2"/><circle cx="424.3" cy="882.9" r="3.2"/><circle cx="422.2" cy="884.5" r="3.2"/><circle cx="425.2" cy="810.1" r="3.2"/><circle cx="424.8" cy="885.4" r="3.2"/><circle cx="422.8" cy="725.9" r="3.2"/><circle cx="422.6" cy="894.4" r="3.2"/><circle cx="425.7" cy="787.5" r="3.2"/><circle cx="424.4" cy="828.2" r="3.2"/><circle cx="422.9" cy="830.1" r="3.2"/><circle cx="425.2" cy="886.3" r="3.2"/><circle cx="424.5" cy="818.9" r="3.2"/><circle cx="421.9" cy="867.4" r="3.2"/><circle cx="422.4" cy="823.2" r="3.2"/><circle cx="425.2" cy="855.3" r="3.2"/><circle cx="422.0" cy="840.3" r="3.2"/><circle cx="424.2" cy="826.9" r="3.2"/><circle cx="423.1" cy="868.2" r="3.2"/><circle cx="422.7" cy="833.8" r="3.2"/><circle cx="422.1" cy="869.2" r="3.2"/><circle cx="423.7" cy="883.5" r="3.2"/><circle cx="426.5" cy="833.3" r="3.2"/><circle cx="426.4" cy="871.1" r="3.2"/><circle cx="421.9" cy="733.4" r="3.2"/><circle cx="425.3" cy="893.7" r="3.2"/><circle cx="425.2" cy="877.7" r="3.2"/><circle cx="425.2" cy="847.9" r="3.2"/><circle cx="425.3" cy="830.7" r="3.2"/><circle cx="428.5" cy="895.3" r="3.2"/><circle cx="426.9" cy="722.7" r="3.2"/><circle cx="429.1" cy="878.5" r="3.2"/><circle cx="429.1" cy="856.5" r="3.2"/><circle cx="429.2" cy="891.0" r="3.2"/><circle cx="433.2" cy="871.8" r="3.2"/><circle cx="432.3" cy="872.5" r="3.2"/><circle cx="430.8" cy="824.6" r="3.2"/><circle cx="429.8" cy="849.1" r="3.2"/><circle cx="428.2" cy="777.9" r="3.2"/><circle cx="428.9" cy="767.7" r="3.2"/><circle cx="429.9" cy="836.0" r="3.2"/><circle cx="432.2" cy="863.6" r="3.2"/><circle cx="428.1" cy="820.6" r="3.2"/><circle cx="430.6" cy="884.8" r="3.2"/><circle cx="428.6" cy="824.1" r="3.2"/><circle cx="432.4" cy="875.1" r="3.2"/><circle cx="431.8" cy="879.5" r="3.2"/><circle cx="428.9" cy="881.1" r="3.2"/><circle cx="428.8" cy="837.3" r="3.2"/><circle cx="429.8" cy="778.2" r="3.2"/><circle cx="429.2" cy="825.6" r="3.2"/><circle cx="431.8" cy="862.3" r="3.2"/><circle cx="428.7" cy="832.6" r="3.2"/><circle cx="426.1" cy="712.6" r="3.2"/><circle cx="428.8" cy="801.5" r="3.2"/><circle cx="429.8" cy="836.0" r="3.2"/><circle cx="428.7" cy="786.1" r="3.2"/><circle cx="431.5" cy="866.6" r="3.2"/><circle cx="428.1" cy="806.8" r="3.2"/><circle cx="430.5" cy="791.0" r="3.2"/><circle cx="428.0" cy="787.4" r="3.2"/><circle cx="431.5" cy="873.0" r="3.2"/><circle cx="428.7" cy="831.2" r="3.2"/><circle cx="430.2" cy="823.8" r="3.2"/><circle cx="430.9" cy="811.2" r="3.2"/><circle cx="429.5" cy="838.9" r="3.2"/><circle cx="430.4" cy="824.8" r="3.2"/><circle cx="429.0" cy="804.8" r="3.2"/><circle cx="429.9" cy="790.3" r="3.2"/><circle cx="428.8" cy="891.4" r="3.2"/><circle cx="427.6" cy="788.8" r="3.2"/><circle cx="428.4" cy="851.8" r="3.2"/><circle cx="430.5" cy="836.0" r="3.2"/><circle cx="428.4" cy="822.2" r="3.2"/><circle cx="431.1" cy="865.6" r="3.2"/><circle cx="428.3" cy="893.4" r="3.2"/><circle cx="428.7" cy="842.3" r="3.2"/><circle cx="426.8" cy="748.1" r="3.2"/><circle cx="431.2" cy="859.9" r="3.2"/><circle cx="432.3" cy="876.2" r="3.2"/><circle cx="430.4" cy="814.5" r="3.2"/><circle cx="429.1" cy="885.5" r="3.2"/><circle cx="429.2" cy="838.5" r="3.2"/><circle cx="429.7" cy="836.5" r="3.2"/><circle cx="429.2" cy="845.0" r="3.2"/><circle cx="431.8" cy="879.9" r="3.2"/><circle cx="429.0" cy="866.8" r="3.2"/><circle cx="428.0" cy="896.9" r="3.2"/><circle cx="428.5" cy="859.3" r="3.2"/><circle cx="422.9" cy="613.0" r="3.2"/><circle cx="424.2" cy="617.0" r="3.2"/><circle cx="426.6" cy="619.2" r="3.2"/><circle cx="422.6" cy="640.0" r="3.2"/><circle cx="421.9" cy="649.0" r="3.2"/><circle cx="423.6" cy="652.2" r="3.2"/><circle cx="424.0" cy="662.0" r="3.2"/><circle cx="427.0" cy="667.6" r="3.2"/><circle cx="422.4" cy="672.0" r="3.2"/><circle cx="423.4" cy="680.0" r="3.2"/><circle cx="424.6" cy="686.0" r="3.2"/><circle cx="423.0" cy="693.0" r="3.2"/><circle cx="424.4" cy="699.0" r="3.2"/><circle cx="429.0" cy="705.8" r="3.2"/><circle cx="423.5" cy="712.0" r="3.2"/><circle cx="425.5" cy="718.0" r="3.2"/><circle cx="424.0" cy="724.0" r="3.2"/><circle cx="428.8" cy="728.0" r="3.2"/><circle cx="422.0" cy="657.0" r="3.2"/><circle cx="422.6" cy="666.0" r="3.2"/><circle cx="425.8" cy="676.0" r="3.2"/><circle cx="422.2" cy="684.0" r="3.2"/><circle cx="426.2" cy="692.0" r="3.2"/><circle cx="422.0" cy="703.0" r="3.2"/><circle cx="443.0" cy="820.3" r="3.2"/><circle cx="443.4" cy="875.0" r="3.2"/><circle cx="438.0" cy="889.0" r="3.2"/><circle cx="434.0" cy="870.6" r="3.2"/><circle cx="433.6" cy="878.0" r="3.2"/><circle cx="506.1" cy="616.5" r="3.2"/><circle cx="506.1" cy="666.5" r="3.2"/><circle cx="506.1" cy="761.3" r="3.2"/>
</g>
<line x1="411.55" y1="599.00" x2="411.55" y2="1004.30" stroke="#0d0d0d" stroke-width="1.5" stroke-dasharray="3.55 2.65"/>
<line x1="421.05" y1="599.00" x2="421.05" y2="1004.30" stroke="#0d0d0d" stroke-width="1.5" stroke-dasharray="3.55 2.65"/>
<line x1="91.50" y1="897.10" x2="525.10" y2="897.10" stroke="#0d0d0d" stroke-width="1.5" stroke-dasharray="3.55 2.65"/>
<rect x="91.5" y="594.4" width="433.60" height="409.90" fill="none" stroke="#1c1817" stroke-width="1.5"/>
<line x1="84.90" y1="1004.30" x2="91.50" y2="1004.30" stroke="#1c1817" stroke-width="1.4"/>
<text x="81.20" y="1008.80" font-size="13.0" text-anchor="end" fill="#131313" stroke="#131313" stroke-width="0.28">0</text>
<line x1="84.90" y1="963.31" x2="91.50" y2="963.31" stroke="#1c1817" stroke-width="1.4"/>
<text x="81.20" y="967.81" font-size="13.0" text-anchor="end" fill="#131313" stroke="#131313" stroke-width="0.28">0.5</text>
<line x1="84.90" y1="922.32" x2="91.50" y2="922.32" stroke="#1c1817" stroke-width="1.4"/>
<text x="81.20" y="926.82" font-size="13.0" text-anchor="end" fill="#131313" stroke="#131313" stroke-width="0.28">1</text>
<line x1="84.90" y1="881.33" x2="91.50" y2="881.33" stroke="#1c1817" stroke-width="1.4"/>
<text x="81.20" y="885.83" font-size="13.0" text-anchor="end" fill="#131313" stroke="#131313" stroke-width="0.28">1.5</text>
<line x1="84.90" y1="840.34" x2="91.50" y2="840.34" stroke="#1c1817" stroke-width="1.4"/>
<text x="81.20" y="844.84" font-size="13.0" text-anchor="end" fill="#131313" stroke="#131313" stroke-width="0.28">2</text>
<line x1="84.90" y1="799.35" x2="91.50" y2="799.35" stroke="#1c1817" stroke-width="1.4"/>
<text x="81.20" y="803.85" font-size="13.0" text-anchor="end" fill="#131313" stroke="#131313" stroke-width="0.28">2.5</text>
<line x1="84.90" y1="758.36" x2="91.50" y2="758.36" stroke="#1c1817" stroke-width="1.4"/>
<text x="81.20" y="762.86" font-size="13.0" text-anchor="end" fill="#131313" stroke="#131313" stroke-width="0.28">3</text>
<line x1="84.90" y1="717.37" x2="91.50" y2="717.37" stroke="#1c1817" stroke-width="1.4"/>
<text x="81.20" y="721.87" font-size="13.0" text-anchor="end" fill="#131313" stroke="#131313" stroke-width="0.28">3.5</text>
<line x1="84.90" y1="676.38" x2="91.50" y2="676.38" stroke="#1c1817" stroke-width="1.4"/>
<text x="81.20" y="680.88" font-size="13.0" text-anchor="end" fill="#131313" stroke="#131313" stroke-width="0.28">4</text>
<line x1="84.90" y1="635.39" x2="91.50" y2="635.39" stroke="#1c1817" stroke-width="1.4"/>
<text x="81.20" y="639.89" font-size="13.0" text-anchor="end" fill="#131313" stroke="#131313" stroke-width="0.28">4.5</text>
<line x1="84.90" y1="594.40" x2="91.50" y2="594.40" stroke="#1c1817" stroke-width="1.4"/>
<text x="81.20" y="598.90" font-size="13.0" text-anchor="end" fill="#131313" stroke="#131313" stroke-width="0.28">5</text>
<line x1="91.50" y1="1004.30" x2="91.50" y2="1010.30" stroke="#1c1817" stroke-width="1.4"/>
<text x="91.20" y="1023.00" font-size="13.0" text-anchor="middle" fill="#131313" stroke="#131313" stroke-width="0.28">-18</text>
<line x1="127.63" y1="1004.30" x2="127.63" y2="1010.30" stroke="#1c1817" stroke-width="1.4"/>
<text x="127.33" y="1023.00" font-size="13.0" text-anchor="middle" fill="#131313" stroke="#131313" stroke-width="0.28">-16</text>
<line x1="163.77" y1="1004.30" x2="163.77" y2="1010.30" stroke="#1c1817" stroke-width="1.4"/>
<text x="163.47" y="1023.00" font-size="13.0" text-anchor="middle" fill="#131313" stroke="#131313" stroke-width="0.28">-14</text>
<line x1="199.90" y1="1004.30" x2="199.90" y2="1010.30" stroke="#1c1817" stroke-width="1.4"/>
<text x="199.60" y="1023.00" font-size="13.0" text-anchor="middle" fill="#131313" stroke="#131313" stroke-width="0.28">-12</text>
<line x1="236.03" y1="1004.30" x2="236.03" y2="1010.30" stroke="#1c1817" stroke-width="1.4"/>
<text x="235.73" y="1023.00" font-size="13.0" text-anchor="middle" fill="#131313" stroke="#131313" stroke-width="0.28">-10</text>
<line x1="272.17" y1="1004.30" x2="272.17" y2="1010.30" stroke="#1c1817" stroke-width="1.4"/>
<text x="271.87" y="1023.00" font-size="13.0" text-anchor="middle" fill="#131313" stroke="#131313" stroke-width="0.28">-8</text>
<line x1="308.30" y1="1004.30" x2="308.30" y2="1010.30" stroke="#1c1817" stroke-width="1.4"/>
<text x="308.00" y="1023.00" font-size="13.0" text-anchor="middle" fill="#131313" stroke="#131313" stroke-width="0.28">-6</text>
<line x1="344.43" y1="1004.30" x2="344.43" y2="1010.30" stroke="#1c1817" stroke-width="1.4"/>
<text x="344.13" y="1023.00" font-size="13.0" text-anchor="middle" fill="#131313" stroke="#131313" stroke-width="0.28">-4</text>
<line x1="380.57" y1="1004.30" x2="380.57" y2="1010.30" stroke="#1c1817" stroke-width="1.4"/>
<text x="380.27" y="1023.00" font-size="13.0" text-anchor="middle" fill="#131313" stroke="#131313" stroke-width="0.28">-2</text>
<line x1="416.70" y1="1004.30" x2="416.70" y2="1010.30" stroke="#1c1817" stroke-width="1.4"/>
<text x="416.40" y="1023.00" font-size="13.0" text-anchor="middle" fill="#131313" stroke="#131313" stroke-width="0.28">0</text>
<line x1="452.83" y1="1004.30" x2="452.83" y2="1010.30" stroke="#1c1817" stroke-width="1.4"/>
<text x="452.53" y="1023.00" font-size="13.0" text-anchor="middle" fill="#131313" stroke="#131313" stroke-width="0.28">2</text>
<line x1="488.97" y1="1004.30" x2="488.97" y2="1010.30" stroke="#1c1817" stroke-width="1.4"/>
<text x="488.67" y="1023.00" font-size="13.0" text-anchor="middle" fill="#131313" stroke="#131313" stroke-width="0.28">4</text>
<line x1="525.10" y1="1004.30" x2="525.10" y2="1010.30" stroke="#1c1817" stroke-width="1.4"/>
<text x="524.80" y="1023.00" font-size="13.0" text-anchor="middle" fill="#131313" stroke="#131313" stroke-width="0.28">6</text>
<text x="307.80" y="1041.00" font-size="14.6" text-anchor="middle" font-weight="bold">Log2FC</text>
<text x="53.00" y="798.90" font-size="14.9" text-anchor="middle" font-weight="bold" transform="rotate(-90 53.00 798.90)">-Log10(Pvalue)</text>
<text x="333.30" y="573.30" font-size="19.0" text-anchor="middle" font-weight="bold" textLength="263.0" lengthAdjust="spacingAndGlyphs">Volcano polt (shDSP_vs_NC)</text>
<text x="544.00" y="780.60" font-size="12.8" font-weight="bold">Significant</text>
<circle cx="549.1" cy="796.5" r="6.9" fill="#ec3126"/>
<text x="559.60" y="800.80" font-size="12.9" fill="#131313" stroke="#131313" stroke-width="0.25">up(442)</text>
<circle cx="549.1" cy="817.2" r="6.9" fill="#4f80c0"/>
<text x="559.60" y="821.55" font-size="12.9" fill="#131313" stroke="#131313" stroke-width="0.25">down(197)</text>
<circle cx="549.1" cy="838.0" r="6.9" fill="#a19d9c"/>
<text x="559.60" y="842.30" font-size="12.9" fill="#131313" stroke="#131313" stroke-width="0.25">nosig(4478)</text>
<text x="664.10" y="1075.30" font-size="57.7" fill="#0c0c0c" textLength="37.7" lengthAdjust="spacingAndGlyphs">C</text>
</g>
<g id="panelD">
<rect x="841.15" y="820.89" width="20.20" height="49.51" fill="#563763"/>
<text x="851.90" y="822.09" font-size="16" text-anchor="middle" font-weight="bold" fill="#ea463c" letter-spacing="1.3">***</text>
<line x1="851.25" y1="870.40" x2="851.25" y2="875.60" stroke="#141212" stroke-width="1.35"/>
<text x="853.85" y="880.20" font-size="11.7" text-anchor="end" fill="#0f0f0f" transform="rotate(-45 853.85 880.20)" stroke="#0f0f0f" stroke-width="0.3">membrane-enclosed lumen:CC</text>
<rect x="871.81" y="820.89" width="20.20" height="49.51" fill="#563763"/>
<text x="882.56" y="822.09" font-size="16" text-anchor="middle" font-weight="bold" fill="#ea463c" letter-spacing="1.3">***</text>
<line x1="881.91" y1="870.40" x2="881.91" y2="875.60" stroke="#141212" stroke-width="1.35"/>
<text x="884.51" y="880.20" font-size="11.7" text-anchor="end" fill="#0f0f0f" transform="rotate(-45 884.51 880.20)" stroke="#0f0f0f" stroke-width="0.3">intracellular organelle lumen:CC</text>
<rect x="902.47" y="820.89" width="20.20" height="49.51" fill="#563763"/>
<text x="913.22" y="822.09" font-size="16" text-anchor="middle" font-weight="bold" fill="#ea463c" letter-spacing="1.3">***</text>
<line x1="912.57" y1="870.40" x2="912.57" y2="875.60" stroke="#141212" stroke-width="1.35"/>
<text x="915.17" y="880.20" font-size="11.7" text-anchor="end" fill="#0f0f0f" transform="rotate(-45 915.17 880.20)" stroke="#0f0f0f" stroke-width="0.3">organelle lumen:CC</text>
<rect x="933.13" y="824.90" width="20.20" height="45.50" fill="#563763"/>
<text x="943.88" y="826.10" font-size="16" text-anchor="middle" font-weight="bold" fill="#ea463c" letter-spacing="1.3">***</text>
<line x1="943.23" y1="870.40" x2="943.23" y2="875.60" stroke="#141212" stroke-width="1.35"/>
<text x="945.83" y="880.20" font-size="11.7" text-anchor="end" fill="#0f0f0f" transform="rotate(-45 945.83 880.20)" stroke="#0f0f0f" stroke-width="0.3">mitochondrion:CC</text>
<rect x="963.79" y="774.04" width="20.20" height="96.36" fill="#563763"/>
<text x="974.54" y="775.24" font-size="16" text-anchor="middle" font-weight="bold" fill="#ea463c" letter-spacing="1.3">***</text>
<line x1="973.89" y1="870.40" x2="973.89" y2="875.60" stroke="#141212" stroke-width="1.35"/>
<text x="976.49" y="880.20" font-size="11.7" text-anchor="end" fill="#0f0f0f" transform="rotate(-45 976.49 880.20)" stroke="#0f0f0f" stroke-width="0.3">organelle envelope lumen:CC</text>
<rect x="994.45" y="820.05" width="20.20" height="50.35" fill="#563763"/>
<text x="1005.20" y="821.25" font-size="16" text-anchor="middle" font-weight="bold" fill="#ea463c" letter-spacing="1.3">***</text>
<line x1="1004.55" y1="870.40" x2="1004.55" y2="875.60" stroke="#141212" stroke-width="1.35"/>
<text x="1007.15" y="880.20" font-size="11.7" text-anchor="end" fill="#0f0f0f" transform="rotate(-45 1007.15 880.20)" stroke="#0f0f0f" stroke-width="0.3">mitochondrial membrane:CC</text>
<rect x="1025.11" y="813.66" width="20.20" height="56.74" fill="#563763"/>
<text x="1035.86" y="814.86" font-size="16" text-anchor="middle" font-weight="bold" fill="#ea463c" letter-spacing="1.3">***</text>
<line x1="1035.21" y1="870.40" x2="1035.21" y2="875.60" stroke="#141212" stroke-width="1.35"/>
<text x="1037.81" y="880.20" font-size="11.7" text-anchor="end" fill="#0f0f0f" transform="rotate(-45 1037.81 880.20)" stroke="#0f0f0f" stroke-width="0.3">extracellular region:CC</text>
<rect x="1055.77" y="816.72" width="20.20" height="53.68" fill="#56386a"/>
<text x="1066.52" y="817.92" font-size="16" text-anchor="middle" font-weight="bold" fill="#ea463c" letter-spacing="1.3">***</text>
<line x1="1065.87" y1="870.40" x2="1065.87" y2="875.60" stroke="#141212" stroke-width="1.35"/>
<text x="1068.47" y="880.20" font-size="11.7" text-anchor="end" fill="#0f0f0f" transform="rotate(-45 1068.47 880.20)" stroke="#0f0f0f" stroke-width="0.3">mitochondrial inner membrane:CC</text>
<rect x="1086.43" y="815.19" width="20.20" height="55.21" fill="#56386a"/>
<text x="1097.18" y="816.39" font-size="16" text-anchor="middle" font-weight="bold" fill="#ea463c" letter-spacing="1.3">***</text>
<line x1="1096.53" y1="870.40" x2="1096.53" y2="875.60" stroke="#141212" stroke-width="1.35"/>
<text x="1099.13" y="880.20" font-size="11.7" text-anchor="end" fill="#0f0f0f" transform="rotate(-45 1099.13 880.20)" stroke="#0f0f0f" stroke-width="0.3">extracellular space:CC</text>
<rect x="1117.09" y="787.59" width="20.20" height="82.81" fill="#553a6c"/>
<text x="1127.84" y="788.79" font-size="16" text-anchor="middle" font-weight="bold" fill="#ea463c" letter-spacing="1.3">***</text>
<line x1="1127.19" y1="870.40" x2="1127.19" y2="875.60" stroke="#141212" stroke-width="1.35"/>
<text x="1129.79" y="880.20" font-size="11.7" text-anchor="end" fill="#0f0f0f" transform="rotate(-45 1129.79 880.20)" stroke="#0f0f0f" stroke-width="0.3">cell-cell junction organization:BP</text>
<rect x="1147.75" y="614.80" width="20.20" height="255.60" fill="#533e6e"/>
<text x="1158.50" y="616.00" font-size="16" text-anchor="middle" font-weight="bold" fill="#ea463c" letter-spacing="1.3">***</text>
<line x1="1157.85" y1="870.40" x2="1157.85" y2="875.60" stroke="#141212" stroke-width="1.35"/>
<text x="1160.45" y="880.20" font-size="11.7" text-anchor="end" fill="#0f0f0f" transform="rotate(-45 1160.45 880.20)" stroke="#0f0f0f" stroke-width="0.3">mitochondrial intermembrane space protein transporter c...</text>
<rect x="1178.41" y="766.12" width="20.20" height="104.28" fill="#553b6f"/>
<text x="1189.16" y="767.32" font-size="16" text-anchor="middle" font-weight="bold" fill="#ea463c" letter-spacing="1.3">***</text>
<line x1="1188.51" y1="870.40" x2="1188.51" y2="875.60" stroke="#141212" stroke-width="1.35"/>
<text x="1191.11" y="880.20" font-size="11.7" text-anchor="end" fill="#0f0f0f" transform="rotate(-45 1191.11 880.20)" stroke="#0f0f0f" stroke-width="0.3">mitochondrial intermembrane space:CC</text>
<rect x="1209.07" y="818.90" width="20.20" height="51.50" fill="#4f4a80"/>
<text x="1219.82" y="820.10" font-size="16" text-anchor="middle" font-weight="bold" fill="#ea463c" letter-spacing="1.3">**</text>
<line x1="1219.17" y1="870.40" x2="1219.17" y2="875.60" stroke="#141212" stroke-width="1.35"/>
<text x="1221.77" y="880.20" font-size="11.7" text-anchor="end" fill="#0f0f0f" transform="rotate(-45 1221.77 880.20)" stroke="#0f0f0f" stroke-width="0.3">organelle inner membrane:CC</text>
<rect x="1239.73" y="778.90" width="20.20" height="91.50" fill="#4e4c84"/>
<text x="1250.48" y="780.10" font-size="16" text-anchor="middle" font-weight="bold" fill="#ea463c" letter-spacing="1.3">**</text>
<line x1="1249.83" y1="870.40" x2="1249.83" y2="875.60" stroke="#141212" stroke-width="1.35"/>
<text x="1252.43" y="880.20" font-size="11.7" text-anchor="end" fill="#0f0f0f" transform="rotate(-45 1252.43 880.20)" stroke="#0f0f0f" stroke-width="0.3">cell-cell junction assembly:BP</text>
<rect x="1270.39" y="815.70" width="20.20" height="54.70" fill="#4c5590"/>
<text x="1281.14" y="816.90" font-size="16" text-anchor="middle" font-weight="bold" fill="#ea463c" letter-spacing="1.3">**</text>
<line x1="1280.49" y1="870.40" x2="1280.49" y2="875.60" stroke="#141212" stroke-width="1.35"/>
<text x="1283.09" y="880.20" font-size="11.7" text-anchor="end" fill="#0f0f0f" transform="rotate(-45 1283.09 880.20)" stroke="#0f0f0f" stroke-width="0.3">mitochondrial protein-containing complex:CC</text>
<rect x="1301.05" y="805.99" width="20.20" height="64.41" fill="#4a5e9c"/>
<text x="1311.80" y="807.19" font-size="16" text-anchor="middle" font-weight="bold" fill="#ea463c" letter-spacing="1.3">**</text>
<line x1="1311.15" y1="870.40" x2="1311.15" y2="875.60" stroke="#141212" stroke-width="1.35"/>
<text x="1313.75" y="880.20" font-size="11.7" text-anchor="end" fill="#0f0f0f" transform="rotate(-45 1313.75 880.20)" stroke="#0f0f0f" stroke-width="0.3">inner mitochondrial membrane protein complex:CC</text>
<rect x="1331.71" y="614.80" width="20.20" height="255.60" fill="#4a6bab"/>
<text x="1342.46" y="616.00" font-size="16" text-anchor="middle" font-weight="bold" fill="#ea463c" letter-spacing="1.3">**</text>
<line x1="1341.81" y1="870.40" x2="1341.81" y2="875.60" stroke="#141212" stroke-width="1.35"/>
<text x="1344.41" y="880.20" font-size="11.7" text-anchor="end" fill="#0f0f0f" transform="rotate(-45 1344.41 880.20)" stroke="#0f0f0f" stroke-width="0.3">uropod:CC</text>
<rect x="1362.37" y="811.23" width="20.20" height="59.17" fill="#4a7fbd"/>
<text x="1373.12" y="812.43" font-size="16" text-anchor="middle" font-weight="bold" fill="#ea463c" letter-spacing="1.3">**</text>
<line x1="1372.47" y1="870.40" x2="1372.47" y2="875.60" stroke="#141212" stroke-width="1.35"/>
<text x="1375.07" y="880.20" font-size="11.7" text-anchor="end" fill="#0f0f0f" transform="rotate(-45 1375.07 880.20)" stroke="#0f0f0f" stroke-width="0.3">calcium ion binding:MF</text>
<rect x="1393.03" y="782.47" width="20.20" height="87.93" fill="#5b95b5"/>
<text x="1403.78" y="783.67" font-size="16" text-anchor="middle" font-weight="bold" fill="#ea463c" letter-spacing="1.3">**</text>
<line x1="1403.13" y1="870.40" x2="1403.13" y2="875.60" stroke="#141212" stroke-width="1.35"/>
<text x="1405.73" y="880.20" font-size="11.7" text-anchor="end" fill="#0f0f0f" transform="rotate(-45 1405.73 880.20)" stroke="#0f0f0f" stroke-width="0.3">actin filament:CC</text>
<rect x="1423.69" y="815.96" width="20.20" height="54.44" fill="#6ec1a8"/>
<text x="1434.44" y="817.16" font-size="16" text-anchor="middle" font-weight="bold" fill="#ea463c" letter-spacing="1.3">**</text>
<line x1="1433.79" y1="870.40" x2="1433.79" y2="875.60" stroke="#141212" stroke-width="1.35"/>
<text x="1436.39" y="880.20" font-size="11.7" text-anchor="end" fill="#0f0f0f" transform="rotate(-45 1436.39 880.20)" stroke="#0f0f0f" stroke-width="0.3">cell adhesion:BP</text>
<line x1="837.20" y1="588.60" x2="837.20" y2="871.10" stroke="#141212" stroke-width="1.5"/>
<line x1="836.50" y1="870.50" x2="1450.00" y2="870.50" stroke="#141212" stroke-width="1.5"/>
<line x1="830.60" y1="870.40" x2="837.00" y2="870.40" stroke="#141212" stroke-width="1.35"/>
<text x="826.40" y="874.40" font-size="11.0" text-anchor="end" fill="#101010" stroke="#101010" stroke-width="0.18">0</text>
<line x1="830.60" y1="844.84" x2="837.00" y2="844.84" stroke="#141212" stroke-width="1.35"/>
<text x="826.40" y="848.84" font-size="11.0" text-anchor="end" fill="#101010" stroke="#101010" stroke-width="0.18">0.1</text>
<line x1="830.60" y1="819.28" x2="837.00" y2="819.28" stroke="#141212" stroke-width="1.35"/>
<text x="826.40" y="823.28" font-size="11.0" text-anchor="end" fill="#101010" stroke="#101010" stroke-width="0.18">0.2</text>
<line x1="830.60" y1="793.72" x2="837.00" y2="793.72" stroke="#141212" stroke-width="1.35"/>
<text x="826.40" y="797.72" font-size="11.0" text-anchor="end" fill="#101010" stroke="#101010" stroke-width="0.18">0.3</text>
<line x1="830.60" y1="768.16" x2="837.00" y2="768.16" stroke="#141212" stroke-width="1.35"/>
<text x="826.40" y="772.16" font-size="11.0" text-anchor="end" fill="#101010" stroke="#101010" stroke-width="0.18">0.4</text>
<line x1="830.60" y1="742.60" x2="837.00" y2="742.60" stroke="#141212" stroke-width="1.35"/>
<text x="826.40" y="746.60" font-size="11.0" text-anchor="end" fill="#101010" stroke="#101010" stroke-width="0.18">0.5</text>
<line x1="830.60" y1="717.04" x2="837.00" y2="717.04" stroke="#141212" stroke-width="1.35"/>
<text x="826.40" y="721.04" font-size="11.0" text-anchor="end" fill="#101010" stroke="#101010" stroke-width="0.18">0.6</text>
<line x1="830.60" y1="691.48" x2="837.00" y2="691.48" stroke="#141212" stroke-width="1.35"/>
<text x="826.40" y="695.48" font-size="11.0" text-anchor="end" fill="#101010" stroke="#101010" stroke-width="0.18">0.7</text>
<line x1="830.60" y1="665.92" x2="837.00" y2="665.92" stroke="#141212" stroke-width="1.35"/>
<text x="826.40" y="669.92" font-size="11.0" text-anchor="end" fill="#101010" stroke="#101010" stroke-width="0.18">0.8</text>
<line x1="830.60" y1="640.36" x2="837.00" y2="640.36" stroke="#141212" stroke-width="1.35"/>
<text x="826.40" y="644.36" font-size="11.0" text-anchor="end" fill="#101010" stroke="#101010" stroke-width="0.18">0.9</text>
<line x1="830.60" y1="614.80" x2="837.00" y2="614.80" stroke="#141212" stroke-width="1.35"/>
<text x="826.40" y="618.80" font-size="11.0" text-anchor="end" fill="#101010" stroke="#101010" stroke-width="0.18">1</text>
<line x1="830.60" y1="589.24" x2="837.00" y2="589.24" stroke="#141212" stroke-width="1.35"/>
<text x="826.40" y="593.24" font-size="11.0" text-anchor="end" fill="#101010" stroke="#101010" stroke-width="0.18">1.1</text>
<text x="801.40" y="728.90" font-size="13.4" text-anchor="middle" font-weight="bold" transform="rotate(-90 801.40 728.90)">Enrichment ratio</text>
<text x="1158.30" y="568.60" font-size="16.9" text-anchor="middle" font-weight="bold" textLength="330.0" lengthAdjust="spacingAndGlyphs">GO enrichment analysis(shDSP_vs_NC)</text>
<defs><linearGradient id="cb" x1="0" y1="0" x2="0" y2="1"><stop offset="0" stop-color="#6ec6a7"/><stop offset="0.17" stop-color="#60a8b0"/><stop offset="0.33" stop-color="#5593b6"/><stop offset="0.5" stop-color="#4a7ebc"/><stop offset="0.67" stop-color="#4a62a3"/><stop offset="0.83" stop-color="#514984"/><stop offset="1" stop-color="#57356a"/></linearGradient></defs>
<rect x="1471.3" y="603.4" width="19.3" height="96.8" fill="url(#cb)"/>
<line x1="1490.60" y1="700.20" x2="1494.00" y2="700.20" stroke="#333" stroke-width="0.9"/>
<text x="1496.60" y="704.20" font-size="11.3" fill="#101010" stroke="#101010" stroke-width="0.2">0</text>
<line x1="1490.60" y1="684.07" x2="1494.00" y2="684.07" stroke="#333" stroke-width="0.9"/>
<text x="1496.60" y="688.07" font-size="11.3" fill="#101010" stroke="#101010" stroke-width="0.2">0.001</text>
<line x1="1490.60" y1="667.93" x2="1494.00" y2="667.93" stroke="#333" stroke-width="0.9"/>
<text x="1496.60" y="671.93" font-size="11.3" fill="#101010" stroke="#101010" stroke-width="0.2">0.002</text>
<line x1="1490.60" y1="651.80" x2="1494.00" y2="651.80" stroke="#333" stroke-width="0.9"/>
<text x="1496.60" y="655.80" font-size="11.3" fill="#101010" stroke="#101010" stroke-width="0.2">0.003</text>
<line x1="1490.60" y1="635.67" x2="1494.00" y2="635.67" stroke="#333" stroke-width="0.9"/>
<text x="1496.60" y="639.67" font-size="11.3" fill="#101010" stroke="#101010" stroke-width="0.2">0.004</text>
<line x1="1490.60" y1="619.53" x2="1494.00" y2="619.53" stroke="#333" stroke-width="0.9"/>
<text x="1496.60" y="623.53" font-size="11.3" fill="#101010" stroke="#101010" stroke-width="0.2">0.005</text>
<line x1="1490.60" y1="603.40" x2="1494.00" y2="603.40" stroke="#333" stroke-width="0.9"/>
<text x="1496.60" y="607.40" font-size="11.3" fill="#101010" stroke="#101010" stroke-width="0.2">0.006</text>
<text x="1490.30" y="1084.90" font-size="55.1" fill="#0c0c0c" textLength="37.5" lengthAdjust="spacingAndGlyphs">D</text>
<line x1="734.00" y1="1121.40" x2="1535.00" y2="1121.40" stroke="#f0efee" stroke-width="1.2"/>
</g>
</svg>
</body>
</html>
